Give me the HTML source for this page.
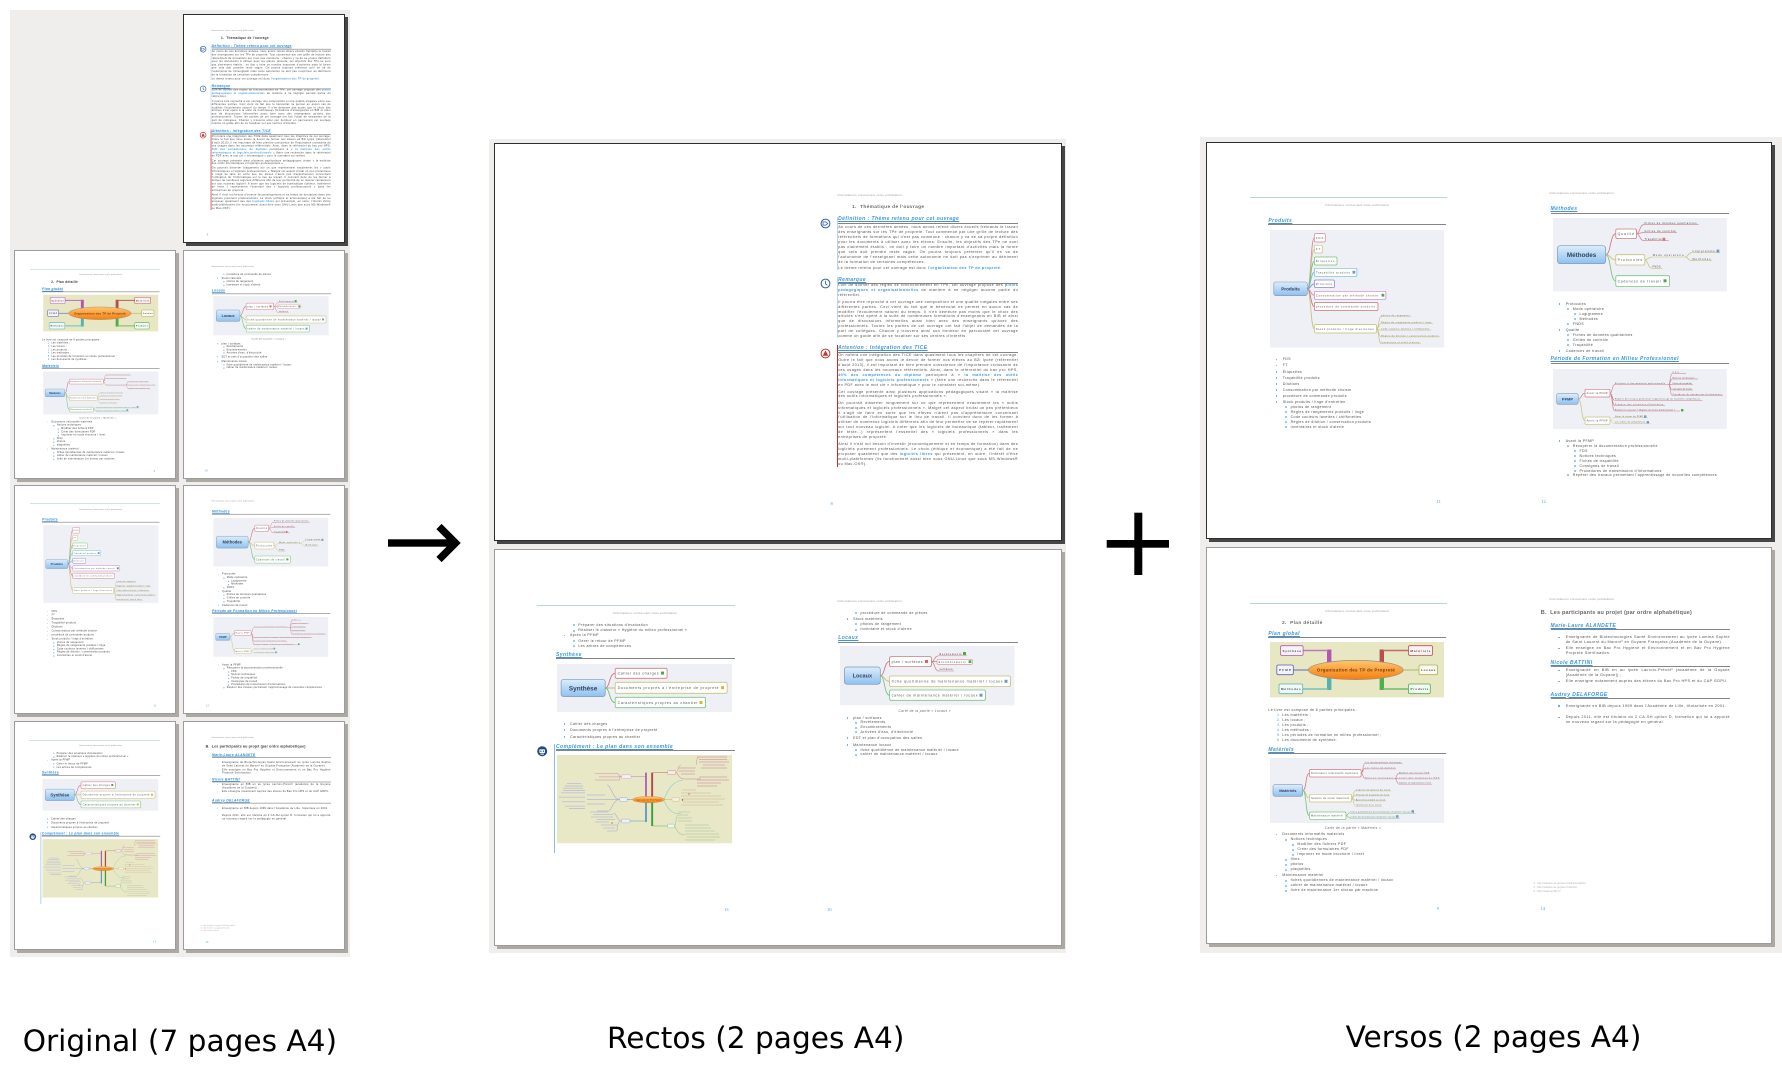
<!DOCTYPE html>
<html><head><meta charset="utf-8">
<style>
*{margin:0;padding:0;box-sizing:border-box}
html,body{width:1782px;height:1074px;overflow:hidden;background:#fff}
body{position:relative;font-family:"Liberation Sans",sans-serif}
.pan{position:absolute;background:#efeeec}
.th,.sh{position:absolute;background:#fff;border:1px solid #9c9c9c;box-shadow:3px 3px 0 #aca8a2;overflow:hidden}
.th{width:162px;height:229px}
.dk{border-color:#2e2e2e;box-shadow:3px 3px 0 #464646}
.pg{position:absolute;left:0;top:0;width:283px;height:397px;transform-origin:0 0}
.th .o{transform:translate(-14.1px,-19px) scale(.661)}
.th .e{transform:translate(-12.3px,-19px) scale(.661)}
.sh .o{left:-1px;top:-1px}
.sh .e{left:282.5px;top:-1px}
.a{position:absolute;white-space:nowrap;line-height:5px;font-size:3.6px;color:#4e4e4e;letter-spacing:.35px}
.hd{font-size:3.1px;color:#9a9a9a;letter-spacing:.2px}
.hl{position:absolute;height:.8px;background:#b8d6d6}
.t1{font-size:4.8px;font-weight:bold;color:#6a6a6a;letter-spacing:.35px;line-height:6px}
.h{font-size:5px;font-weight:bold;font-style:italic;color:#3f95d6;text-decoration:underline;letter-spacing:.45px}
.r{position:absolute;height:1.1px;background:#858585}
.p{position:absolute;white-space:normal;text-align:justify;font-size:3.8px;line-height:4.95px;color:#505050;letter-spacing:.38px}
.th .p,.th .a{color:#3a3a3a}
.th .hd{color:#8a8a8a}
.th .h{color:#2f8ad0}
.bl{color:#3f98d8;font-weight:bold}
.pn{font-size:4.6px;color:#4aa2de !important;font-family:"Liberation Serif",serif;letter-spacing:0}
.cap{font-style:italic;color:#666;font-size:3.3px}
.a i,.p i{position:absolute;left:-6.5px;top:1.9px;width:1.3px;height:1.3px;border-radius:50%;background:#5aa9e2}
.p i{left:-7.4px}
.a i.s{left:-5.5px;background:none;border:.3px solid #7ab8e6}
.a b.n{position:absolute;left:-5.3px;font-weight:normal;color:#4aa2de}
.bar{position:absolute;width:.8px}
.mm,.ic{position:absolute;overflow:visible}
svg text{font-family:"Liberation Sans",sans-serif}
.cp{position:absolute;font-family:"DejaVu Sans",sans-serif;font-size:29.6px;line-height:30px;color:#000;white-space:nowrap}
.fn{font-size:2.4px;color:#aaa !important;letter-spacing:.1px}
</style></head>
<body>
<svg width="0" height="0" style="position:absolute"><defs>
<linearGradient id="gb" x1="0" y1="0" x2="0" y2="1"><stop offset="0" stop-color="#dcedfc"/><stop offset="1" stop-color="#8fc1ef"/></linearGradient>
<linearGradient id="go" x1="0" y1="0" x2="0" y2="1"><stop offset="0" stop-color="#ffc56e"/><stop offset="1" stop-color="#f57e10"/></linearGradient>
</defs></svg>

<div class="pan" style="left:10px;top:10px;width:340px;height:947px"></div>
<div class="pan" style="left:489px;top:139px;width:577px;height:814px"></div>
<div class="pan" style="left:1200px;top:136.5px;width:582px;height:816.5px"></div>

<!-- ===================== THUMBNAILS ===================== -->
<div class="th dk" style="left:183px;top:14px">
<div class="pg e">
<div class="a hd" style="left:60px;top:50px">Informations concernant cette publication</div>
<div class="a t1" style="left:74.5px;top:61.7px">1.&nbsp; Thématique de l'ouvrage</div>
<div class="bar" style="left:59.4px;top:74px;height:53px;background:#b9d5ec"></div>
<svg class="ic" style="left:42px;top:75.3px" width="11" height="11" viewBox="0 0 11 11"><circle cx="5.5" cy="5.5" r="4.4" fill="#fff" stroke="#2f5f98" stroke-width="1"/><path d="M3 3.9h2.8l2 1.6-2 1.6H3z" fill="none" stroke="#2f5f98" stroke-width=".8"/></svg>
<div class="a h" style="left:60.6px;top:74.2px">Définition : Thème retenu pour cet ouvrage</div>
<div class="r" style="left:60.6px;top:79.6px;width:180px"></div>
<div class="p" style="left:60.6px;top:82.3px;width:180px">Au cours de ces dernières années, nous avons relevé divers écueils freinants le travail des enseignants sur les TPe de propreté. Tout commence par une grille de lecture des référentiels de formations qui n'est pas commune : chacun y va de sa propre définition pour les documents à utiliser avec les élèves. Ensuite, les objectifs des TPe ne sont pas clairement établis : on doit y faire un nombre important d'activités mais la forme que cela doit prendre reste vague. On pourra toujours prétexter qu'il en va de l'autonomie de l'enseignant mais cette autonomie ne doit pas s'exprimer au détriment de la formation de certaines compétences.</div>
<div class="p" style="left:60.6px;top:122.5px;width:180px">Le thème retenu pour cet ouvrage est donc <span class="bl">l'organisation des TP de propreté</span>.</div>
<div class="bar" style="left:59.4px;top:134px;height:61px;background:#b9d5ec"></div>
<svg class="ic" style="left:42px;top:134.5px" width="11" height="11" viewBox="0 0 11 11"><circle cx="5.5" cy="5.5" r="4.4" fill="#fff" stroke="#2f5f98" stroke-width="1"/><path d="M5.5 2.8v3l1.8 1.4" fill="none" stroke="#2f5f98" stroke-width=".8"/></svg>
<div class="a h" style="left:60.6px;top:134.6px">Remarque</div>
<div class="r" style="left:60.6px;top:139.6px;width:180px"></div>
<div class="p" style="left:60.6px;top:140.3px;width:180px">Loin de donner des règles de fonctionnement en TPe, cet ouvrage propose des <span class="bl">pistes pédagogiques et organisationnelles</span> de manière à ne négliger aucune partie du référentiel.</div>
<div class="p" style="left:60.6px;top:156.6px;width:180px">Il pourra être reproché à cet ouvrage une composition et une qualité inégales entre ses différentes parties. Ceci vient du fait que le bénévolat ne permet en aucun cas de modifier l'écoulement naturel du temps. Il n'en demeure pas moins que le choix des articles s'est opéré à la suite de nombreuses formations d'enseignants en BIB et ainsi que de discussions informelles aussi bien avec des enseignants qu'avec des professionnels. Toutes les parties de cet ouvrage ont fait l'objet de demandes de la part de collègues. Chacun y trouvera ainsi son bonheur en parcourant cet ouvrage comme un guide afin de se focaliser sur ses centres d'intérêts.</div>
<div class="bar" style="left:59.4px;top:202px;height:121.5px;background:#b8302a"></div>
<svg class="ic" style="left:42px;top:204.5px" width="11" height="11" viewBox="0 0 11 11"><circle cx="5.5" cy="5.5" r="4.4" fill="#fff" stroke="#b83a3a" stroke-width="1"/><path d="M5.5 2.4L8.3 7.7H2.7z" fill="#c0392b"/></svg>
<div class="a h" style="left:60.6px;top:203.2px">Attention : Intégration des TICE</div>
<div class="r" style="left:60.6px;top:208.6px;width:180px"></div>
<div class="p" style="left:60.6px;top:210.2px;width:180px">On notera une intégration des TICE dans quasiment tous les chapitres de cet ouvrage. Outre le fait que nous avons le devoir de former nos élèves au B2i lycée (référentiel d'août 2013), il est important de bien prendre conscience de l'importance croissante de ces usages dans les nouveaux référentiels. Ainsi, dans le référentiel du bac pro HPS, <span class="bl">40% des compétences du diplôme</span> participent à « <span class="bl">la maîtrise des outils informatiques et logiciels professionnels</span> » (faire une recherche dans le référentiel en PDF avec le mot clé « informatique » pour le constater soi-même).</div>
<div class="p" style="left:60.6px;top:246.5px;width:180px">Cet ouvrage présente ainsi plusieurs applications pédagogiques visant « la maîtrise des outils informatiques et logiciels professionnels ».</div>
<div class="p" style="left:60.6px;top:257.6px;width:180px">On pourrait disserter longuement sur ce que représentent exactement les « outils informatiques et logiciels professionnels ». Malgré cet aspect brutal un peu prétentieux il s'agit de faire en sorte que les élèves n'aient pas d'appréhension concernant l'utilisation de l'informatique sur le lieu de travail. Il convient donc de les former à utiliser de nombreux logiciels différents afin de leur permettre de se repérer rapidement sur tout nouveau logiciel. A noter que les logiciels de bureautique (tableur, traitement de texte...) représentent l'essentiel des « logiciels professionnels » dans les entreprises de propreté.</div>
<div class="p" style="left:60.6px;top:298.9px;width:180px">Ainsi il n'est nul besoin d'investir (économiquement et en temps de formation) dans des logiciels purement professionnels. Le choix (éthique et économique) a été fait de ne proposer quasiment que des <span class="bl">logiciels libres</span> qui présentent, en outre, l'intérêt d'être multi-plateformes (ils fonctionnent aussi bien sous GNU-Linux que sous MS-Windows® ou Mac-OS®).</div>
<div class="a pn" style="left:53px;top:358px">8</div>
</div>
</div>

<div class="th" style="left:14px;top:250px">
<div class="pg o">
<div class="hl" style="left:43.6px;top:55.8px;width:197px"></div>
<div class="a hd" style="left:118.8px;top:61.8px">Informations concernant cette publication</div>
<div class="a t1" style="left:76px;top:74px">2.&nbsp; Plan détaillé</div>
<div class="a h" style="left:62.4px;top:84.8px">Plan global</div>
<div class="r" style="left:62.4px;top:90.2px;width:178px"></div>
<svg class="mm" style="left:63.5px;top:95.3px" width="174" height="55.4" viewBox="0 0 174 55.4">
<rect width="174" height="55.4" fill="#e8e7c4"/>
<rect x="57" y="7.5" width="4.4" height="14" fill="#b356b3"/><path d="M33 8.5H58" stroke="#c07ac0" stroke-width="1.6"/>
<rect x="57" y="35" width="4.4" height="13" fill="#52b3b3"/><path d="M32.7 47H58" stroke="#72c0c0" stroke-width="1.6"/>
<rect x="109.6" y="7.5" width="4.4" height="14" fill="#b5504c"/><path d="M113 8.5H138.5" stroke="#c06c68" stroke-width="1.6"/>
<rect x="109.6" y="35" width="4.4" height="13" fill="#4fae4f"/><path d="M113 47H138.5" stroke="#6cbf6c" stroke-width="1.6"/>
<path d="M23.3 28H39" stroke="#7f7fc4" stroke-width="1.2"/><path d="M133 28H149" stroke="#c0c070" stroke-width="1.2"/>
<ellipse cx="85.8" cy="28" rx="47.4" ry="9.6" fill="url(#go)" stroke="#9a8f80" stroke-width=".7"/>
<text x="85.8" y="29.6" font-size="4.6" font-weight="bold" fill="#7b3c08" text-anchor="middle" textLength="78">Organisation des TP de Propreté</text>
<rect x="10.5" y="3.7" width="22.6" height="9.7" rx="1.4" fill="#f8f2f8" stroke="#b05cb0" stroke-width=".8"/><text x="12.5" y="9.8" font-size="3" font-weight="bold" fill="#444" textLength="18.6">Synthèse</text>
<rect x="6.8" y="23" width="16.5" height="9.7" rx="1.4" fill="#f2f2fa" stroke="#6060b0" stroke-width=".8"/><text x="9" y="29.1" font-size="3" font-weight="bold" fill="#444" textLength="12">PFMP</text>
<rect x="9" y="42" width="23.7" height="9.7" rx="1.4" fill="#f0f8f8" stroke="#5fb0b0" stroke-width=".8"/><text x="11" y="48.1" font-size="3" font-weight="bold" fill="#444" textLength="19.7">Méthodes</text>
<rect x="138.5" y="3.7" width="24" height="9.7" rx="1.4" fill="#faf2f2" stroke="#c05050" stroke-width=".8"/><text x="140.5" y="9.8" font-size="3" font-weight="bold" fill="#444" textLength="20">Matériels</text>
<rect x="149" y="23" width="18.5" height="9.7" rx="1.4" fill="#fafaf0" stroke="#b0b050" stroke-width=".8"/><text x="151" y="29.1" font-size="3" font-weight="bold" fill="#444" textLength="14.5">Locaux</text>
<rect x="138.5" y="42" width="21.8" height="9.7" rx="1.4" fill="#f2faf2" stroke="#50b050" stroke-width=".8"/><text x="140.5" y="48.1" font-size="3" font-weight="bold" fill="#444" textLength="17.8">Produits</text>
</svg>
<div class="a" style="left:62.4px;top:160.8px">Le livre est composé de 6 parties principales :</div>
<div class="a" style="left:76.3px;top:165.8px"><b class="n">1.</b>Les matériels ;</div>
<div class="a" style="left:76.3px;top:170.8px"><b class="n">2.</b>Les locaux ;</div>
<div class="a" style="left:76.3px;top:175.8px"><b class="n">3.</b>Les produits ;</div>
<div class="a" style="left:76.3px;top:180.8px"><b class="n">4.</b>Les méthodes ;</div>
<div class="a" style="left:76.3px;top:185.8px"><b class="n">5.</b>Les périodes de formation en milieu professionnel ;</div>
<div class="a" style="left:76.3px;top:190.8px"><b class="n">6.</b>Les documents de synthèse.</div>
<div class="a h" style="left:62.4px;top:200.5px">Matériels</div>
<div class="r" style="left:62.4px;top:205.7px;width:178px"></div>
<svg class="mm" style="left:63.5px;top:210.7px" width="174.2" height="65" viewBox="0 0 174.2 65">
<rect width="174.2" height="65" fill="#eef0f6"/>
<g fill="none" stroke-width=".8">
<path d="M32.7 32.45C37 32.45 35 15.3 39.5 15.3" stroke="#cf7c80"/>
<path d="M32.7 32.45C37 32.45 35 40.15 39.5 40.15" stroke="#c8c07a"/>
<path d="M32.7 32.45C37 32.45 35 57.65 39.5 57.65" stroke="#7cc47c"/>
<path d="M91.1 15.3C93 15.3 93 5 94.8 5M91.1 15.3C93 15.3 93 10.3 94.8 10.3M91.1 15.3C93 15.3 93 20.3 94.8 20.3M124.9 20.3C127 20.3 126.5 15.3 128.5 15.3M124.9 20.3H128.5M124.9 20.3C127 20.3 126.5 25.6 128.5 25.6" stroke="#cf7c80" stroke-width=".6"/>
<path d="M81.5 40.15C84 40.15 83 32.3 85.5 32.3M81.5 40.15C84 40.15 83 37.3 85.5 37.3M81.5 40.15C84 40.15 83 42.3 85.5 42.3M81.5 40.15C84 40.15 83 47.6 85.5 47.6" stroke="#c8c07a" stroke-width=".6"/>
<path d="M76 57.65C78 57.65 78 54.6 79.8 54.6M76 57.65C78 57.65 78 59.6 79.8 59.6" stroke="#7cc47c" stroke-width=".6"/>
<path d="M94.8 5.6H132.5M94.8 10.9H126M94.8 20.9H124.9M128.5 15.9H160M128.5 20.9H170M128.5 26.2H162" stroke="#d08a8e" stroke-width=".5"/>
<path d="M85.5 32.9H121.2M85.5 37.9H120M85.5 42.9H116M85.5 48.2H112" stroke="#c8c07a" stroke-width=".5"/>
<path d="M79.8 55.2H145.5M79.8 60.2H129.8" stroke="#7cc47c" stroke-width=".5"/>
</g>
<rect x="3" y="26.6" width="29.7" height="11.7" rx="2" fill="url(#gb)" stroke="#8396b0" stroke-width=".6"/><text x="17.85" y="33.9" font-size="4" font-weight="bold" fill="#34445f" text-anchor="middle">Matériels</text>
<rect x="39.5" y="11.6" width="51.6" height="7.4" rx="1.2" fill="#fff" stroke="#cf7c80" stroke-width=".7"/><text x="41" y="16.2" font-size="2.6" fill="#555" textLength="47">Documents informatifs matériels</text>
<rect x="39.5" y="36.3" width="42" height="7.7" rx="1.2" fill="#fff" stroke="#c8c07a" stroke-width=".7"/><text x="41" y="41" font-size="2.6" fill="#555" textLength="38">Gestion du stock matériels</text>
<rect x="39.5" y="54" width="36.5" height="7.3" rx="1.2" fill="#fff" stroke="#7cc47c" stroke-width=".7"/><text x="41" y="58.6" font-size="2.6" fill="#555" textLength="32">Maintenance matériel</text>
<g font-size="1.9" fill="#555">
<text x="95.3" y="5" textLength="36">Les documentations techniques</text><text x="95.3" y="10.3" textLength="30">Les fiches de données</text><text x="95.3" y="20.3" textLength="28">Notices techniques</text>
<text x="129" y="15.3" textLength="30">Modifier des fichiers PDF</text><text x="129" y="20.3" textLength="40">Créer des formulaires PDF</text><text x="129" y="25.6" textLength="32">Imprimer en mode brochure / livret</text>
<text x="86" y="32.3" textLength="34">Logiciel de gestion de stock</text><text x="86" y="37.3" textLength="33">Principe de la gestion de stock</text><text x="86" y="42.3" textLength="29">Ajout d'un produit au stock</text><text x="86" y="47.6" textLength="25">Inventaire d'un stock</text>
<text x="80.3" y="54.6" textLength="60">fiches quotidiennes de maintenance matériel / locaux</text><text x="80.3" y="59.6" textLength="45">cahier de maintenance matériel / locaux</text>
</g>
<rect x="141.5" y="52.2" width="2.5" height="2.5" fill="#6a9ad0"/><rect x="126" y="57.2" width="2.5" height="2.5" fill="#6a9ad0"/>
</svg>
<div class="a cap" style="left:118.8px;top:278.8px">Carte de la partie « Matériels »</div>
<div class="a" style="left:76.3px;top:284.8px"><i></i>Documents informatifs matériels</div>
<div class="a" style="left:84.6px;top:289.8px"><i class="s"></i>Notices techniques</div>
<div class="a" style="left:91.4px;top:294.8px"><i class="s"></i>Modifier des fichiers PDF</div>
<div class="a" style="left:91.4px;top:299.8px"><i class="s"></i>Créer des formulaires PDF</div>
<div class="a" style="left:91.4px;top:304.8px"><i class="s"></i>Imprimer en mode brochure / livret</div>
<div class="a" style="left:84.6px;top:309.8px"><i class="s"></i>films</div>
<div class="a" style="left:84.6px;top:314.8px"><i class="s"></i>photos</div>
<div class="a" style="left:84.6px;top:319.8px"><i class="s"></i>plaquettes</div>
<div class="a" style="left:76.3px;top:325.8px"><i></i>Maintenance matériel</div>
<div class="a" style="left:84.6px;top:330.8px"><i class="s"></i>fiches quotidiennes de maintenance matériel / locaux</div>
<div class="a" style="left:84.6px;top:335.8px"><i class="s"></i>cahier de maintenance matériel / locaux</div>
<div class="a" style="left:84.6px;top:340.8px"><i class="s"></i>fiche de maintenance 1er niveau par machine</div>
<div class="a pn" style="left:231px;top:358.5px">9</div>
</div>
</div>

<div class="th" style="left:183px;top:250px">
<div class="pg e">
<div class="a hd" style="left:60px;top:49.9px">Informations concernant cette publication</div>
<div class="a" style="left:83px;top:61.5px"><i class="s"></i>procédure de commande de pièces</div>
<div class="a" style="left:75.6px;top:67.5px"><i></i>Stock matériels</div>
<div class="a" style="left:83px;top:72.5px"><i class="s"></i>photos de rangement</div>
<div class="a" style="left:83px;top:77.9px"><i class="s"></i>inventaire et stock d'alerte</div>
<div class="a h" style="left:60.7px;top:87.2px">Locaux</div>
<div class="r" style="left:60.7px;top:92.5px;width:180px"></div>
<svg class="mm" style="left:62.6px;top:97.4px" width="174.4" height="59.3" viewBox="0 0 174.4 59.3">
<rect width="174.4" height="59.3" fill="#eef0f6"/>
<g fill="none" stroke-width=".9">
<path d="M40.3 29.7C45 29.7 44 15.6 49.6 15.6" stroke="#cf7c80"/>
<path d="M40.3 29.7C45 29.7 44 35.3 49.6 35.3" stroke="#c8c07a"/>
<path d="M40.3 29.7C45 29.7 44 49.2 49.6 49.2" stroke="#7cc47c"/>
<path d="M91.4 15.6C95 15.6 94 9.8 98.9 9.8M91.4 15.6H97M91.4 15.6C95 15.6 94 25 98.9 25" stroke="#cf7c80" stroke-width=".7"/>
</g>
<rect x="4.4" y="21" width="35.9" height="17.3" rx="2.6" fill="url(#gb)" stroke="#8396b0" stroke-width=".7"/>
<text x="22.35" y="31.7" font-size="5.6" font-weight="bold" fill="#34445f" text-anchor="middle">Locaux</text>
<rect x="49.6" y="10.6" width="41.8" height="10" rx="1.6" fill="#fff" stroke="#cf7c80" stroke-width=".8"/>
<text x="51.6" y="17" font-size="3.6" fill="#555" textLength="31">plan / surfaces</text>
<rect x="85" y="14" width="3" height="3" fill="#e06060"/>
<text x="99.5" y="8.8" font-size="2.4" fill="#333" textLength="22">Revêtements</text>
<path d="M98.9 9.8H127" stroke="#cf7c80" stroke-width=".5"/>
<rect x="123" y="6" width="3" height="3" fill="#4aa84a"/>
<rect x="97" y="13.3" width="35.4" height="5" rx="1" fill="#fff" stroke="#d88a90" stroke-width=".6"/>
<text x="98.6" y="16.8" font-size="2.4" fill="#333" textLength="27">Encombrements</text>
<rect x="128.6" y="14.3" width="2.8" height="2.8" fill="#4aa84a"/>
<text x="99.5" y="24" font-size="2.4" fill="#333" textLength="13">surfaces</text>
<path d="M98.9 25H114" stroke="#cf7c80" stroke-width=".5"/>
<rect x="49.6" y="30" width="120.9" height="10.6" rx="1.6" fill="#fff" stroke="#c8c07a" stroke-width=".8"/>
<text x="51.6" y="36.6" font-size="3.6" fill="#555" textLength="111">fiche quotidienne de maintenance matériel / locaux</text>
<rect x="164.5" y="33.8" width="3" height="3" fill="#6a9ad0"/>
<rect x="49.6" y="44" width="95.8" height="10.3" rx="1.6" fill="#fff" stroke="#7cc47c" stroke-width=".8"/>
<text x="51.6" y="50.5" font-size="3.6" fill="#555" textLength="86">cahier de maintenance matériel / locaux</text>
<rect x="139.5" y="47.7" width="3" height="3" fill="#6a9ad0"/>
</svg>
<div class="a cap" style="left:121px;top:159.5px">Carte de la partie « Locaux »</div>
<div class="a" style="left:75.6px;top:166.5px"><i></i>plan / surfaces</div>
<div class="a" style="left:83px;top:170.9px"><i class="s"></i>Revêtements</div>
<div class="a" style="left:83px;top:175.9px"><i class="s"></i>Encombrements</div>
<div class="a" style="left:83px;top:180.5px"><i class="s"></i>Arrivées d'eau, d'électricité</div>
<div class="a" style="left:75.6px;top:186.5px"><i></i>EDT et plan d'occupation des salles</div>
<div class="a" style="left:75.6px;top:193.5px"><i></i>Maintenance locaux</div>
<div class="a" style="left:83px;top:198.5px"><i class="s"></i>fiche quotidienne de maintenance matériel / locaux</div>
<div class="a" style="left:83px;top:203.2px"><i class="s"></i>cahier de maintenance matériel / locaux</div>
<div class="a pn" style="left:49.5px;top:358px">10</div>
</div>
</div>

<div class="th" style="left:14px;top:485px">
<div class="pg o">
<div class="hl" style="left:43.6px;top:55.3px;width:197px"></div>
<div class="a hd" style="left:118.8px;top:61.5px">Informations concernant cette publication</div>
<div class="a h" style="left:62.4px;top:77.8px">Produits</div>
<div class="r" style="left:62.4px;top:82.8px;width:178px"></div>
<svg class="mm" style="left:63.5px;top:88px" width="174.2" height="117.6" viewBox="0 0 174.2 117.6">
<rect width="174.2" height="117.6" fill="#eef0f6"/>
<g fill="none" stroke-width=".8">
<path d="M37.3 58.85C41 58.85 40.5 7.8 44.4 7.8" stroke="#d48896"/>
<path d="M37.3 58.85C41 58.85 40.5 19.15 44.4 19.15" stroke="#c8c07a"/>
<path d="M37.3 58.85C41 58.85 40.5 31 44.4 31" stroke="#72c072"/>
<path d="M37.3 58.85C41 58.85 40.5 42.3 44.4 42.3" stroke="#6cbfc8"/>
<path d="M37.3 58.85C41 58.85 40.5 53.8 44.4 53.8" stroke="#8c82cc"/>
<path d="M37.3 58.85C41 58.85 40.5 65.3 44.4 65.3" stroke="#cc80cc"/>
<path d="M37.3 58.85C41 58.85 40.5 76.6 44.4 76.6" stroke="#cc7070"/>
<path d="M37.3 58.85C41 58.85 40.5 98.8 44.4 98.8" stroke="#c4be72"/>
<path d="M106.5 98.8C109 98.8 108.5 86.6 111 86.6M106.5 98.8C109 98.8 108.5 93.4 111 93.4M106.5 98.8C109 98.8 108.5 100.1 111 100.1M106.5 98.8C109 98.8 108.5 106.9 111 106.9M106.5 98.8C109 98.8 108.5 113.6 111 113.6" stroke="#c4be72" stroke-width=".6"/>
<path d="M111 86.6H141M111 93.4H163M111 100.1H161M111 106.9H170M111 113.6H151" stroke="#c4be72" stroke-width=".5"/>
</g>
<rect x="3.8" y="52" width="33.5" height="13.7" rx="2.2" fill="url(#gb)" stroke="#8396b0" stroke-width=".6"/><text x="20.55" y="60.5" font-size="4.6" font-weight="bold" fill="#34445f" text-anchor="middle">Produits</text>
<g fill="#fff" stroke-width=".7">
<rect x="44.4" y="3.6" width="10.9" height="8.4" rx="1.2" stroke="#d48896"/>
<rect x="44.4" y="15.3" width="7.9" height="7.7" rx="1.2" stroke="#c8c07a"/>
<rect x="44.4" y="27" width="22.6" height="8" rx="1.2" stroke="#72c072"/>
<rect x="44.4" y="38.3" width="42.5" height="8" rx="1.2" stroke="#6cbfc8"/>
<rect x="44.4" y="50" width="20" height="7.6" rx="1.2" stroke="#8c82cc"/>
<rect x="44.4" y="61.3" width="71.5" height="8" rx="1.2" stroke="#cc80cc"/>
<rect x="44.4" y="72.6" width="63.6" height="8" rx="1.2" stroke="#cc7070"/>
<rect x="44.4" y="94.6" width="62.1" height="8.4" rx="1.2" stroke="#c4be72"/>
</g>
<g font-size="2.8" fill="#555">
<text x="45.9" y="8.8" textLength="7.5">FDS</text><text x="45.9" y="20.2" textLength="4.5">FT</text><text x="45.9" y="32" textLength="18.5">Étiquettes</text>
<text x="45.9" y="43.3" textLength="34">Traçabilité produits</text><text x="45.9" y="54.8" textLength="16">Dilutions</text>
<text x="45.9" y="66.3" textLength="62">Consommation par méthode choisie</text><text x="45.9" y="77.6" textLength="59">procédure de commande produits</text>
<text x="45.9" y="99.8" textLength="58">Stock produits / linge d'entretien</text>
</g>
<g font-size="2" fill="#555"><text x="111.3" y="86" textLength="28">photos de rangement</text><text x="111.3" y="92.8" textLength="50">Règles de rangements produits / linge</text><text x="111.3" y="99.5" textLength="48">Code couleurs lavettes / chiffonettes</text><text x="111.3" y="106.3" textLength="57">Règles de dilution / conservation produits</text><text x="111.3" y="113" textLength="38">inventaires et stock d'alerte</text></g>
<rect x="82.5" y="40.8" width="2.8" height="2.8" fill="#6a9ad0"/><rect x="111.5" y="63.8" width="2.8" height="2.8" fill="#4aa84a"/>
</svg>
<div class="a" style="left:76.7px;top:215.8px"><i></i>FDS</div>
<div class="a" style="left:76.7px;top:221.8px"><i></i>FT</div>
<div class="a" style="left:76.7px;top:228.1px"><i></i>Étiquettes</div>
<div class="a" style="left:76.7px;top:234.1px"><i></i>Traçabilité produits</div>
<div class="a" style="left:76.7px;top:240.1px"><i></i>Dilutions</div>
<div class="a" style="left:76.7px;top:246.1px"><i></i>Consommation par méthode choisie</div>
<div class="a" style="left:76.7px;top:252.1px"><i></i>procédure de commande produits</div>
<div class="a" style="left:76.7px;top:258.1px"><i></i>Stock produits / linge d'entretien</div>
<div class="a" style="left:84.6px;top:263.1px"><i class="s"></i>photos de rangement</div>
<div class="a" style="left:84.6px;top:268.1px"><i class="s"></i>Règles de rangements produits / linge</div>
<div class="a" style="left:84.6px;top:273.1px"><i class="s"></i>Code couleurs lavettes / chiffonettes</div>
<div class="a" style="left:84.6px;top:278.1px"><i class="s"></i>Règles de dilution / conservation produits</div>
<div class="a" style="left:84.6px;top:283.1px"><i class="s"></i>inventaires et stock d'alerte</div>
<div class="a pn" style="left:230.5px;top:357.5px">11</div>
</div>
</div>

<div class="th" style="left:183px;top:485px">
<div class="pg e">
<div class="a hd" style="left:60px;top:49.1px">Informations concernant cette publication</div>
<div class="a h" style="left:61px;top:65.8px">Méthodes</div>
<div class="r" style="left:61px;top:71.1px;width:178.5px"></div>
<svg class="mm" style="left:63px;top:76.6px" width="173.8" height="73.4" viewBox="0 0 173.8 73.4">
<rect width="173.8" height="73.4" fill="#eef0f6"/>
<g fill="none" stroke-width=".9">
<path d="M52.7 36.7C58 36.7 57 15.7 62.8 15.7" stroke="#cf7c80"/>
<path d="M52.7 36.7C58 36.7 57 41.85 62.8 41.85" stroke="#c8c07a"/>
<path d="M52.7 36.7C58 36.7 57 63.05 62.8 63.05" stroke="#7cc47c"/>
<path d="M83.5 15.7C87 15.7 86.5 6.6 91 6.6M83.5 15.7C87 15.7 86.5 14.6 91 14.6M83.5 15.7C87 15.7 86.5 22.6 91 22.6" stroke="#cf7c80" stroke-width=".7"/>
<path d="M91 6.6H145.6M91 14.6H124M91 22.6H115.6" stroke="#cf7c80" stroke-width=".6"/>
<path d="M91.8 41.85C95 41.85 95 39 99.3 39M91.8 41.85C95 41.85 95 50.3 99 50.3M132.4 39C135 39 135 34.6 139.2 34.6M132.4 39C135 39 135 42.6 139 42.6" stroke="#c8c07a" stroke-width=".7"/>
<path d="M99.3 39H132.4M99 50.3H109.5M139.2 34.6H167M139 42.6H158.8" stroke="#c8c07a" stroke-width=".6"/>
</g>
<rect x="4.5" y="27.7" width="48.2" height="18" rx="2.8" fill="url(#gb)" stroke="#8396b0" stroke-width=".7"/><text x="28.6" y="38.8" font-size="6.3" font-weight="bold" fill="#34445f" text-anchor="middle">Méthodes</text>
<rect x="62.8" y="11" width="20.7" height="9.4" rx="1.4" fill="#fff" stroke="#cf7c80" stroke-width=".8"/><text x="64.6" y="17" font-size="3.5" fill="#555" textLength="16.5">Qualité</text>
<rect x="62.8" y="36.7" width="29" height="10.3" rx="1.4" fill="#fff" stroke="#c8c07a" stroke-width=".8"/><text x="64.6" y="43.1" font-size="3.5" fill="#555" textLength="24.5">Protocoles</text>
<rect x="62.8" y="57.7" width="53.8" height="10.7" rx="1.4" fill="#fff" stroke="#7cc47c" stroke-width=".8"/><text x="64.6" y="64.3" font-size="3.5" fill="#555" textLength="43">Cadences de travail</text>
<rect x="110.5" y="61.3" width="3" height="3" fill="#4aa84a"/>
<g font-size="2.5" fill="#444"><text x="91.5" y="5.8" textLength="52">Fiches de données qualitatives</text><text x="91.5" y="13.8" textLength="31">Grilles de contrôle</text><text x="91.5" y="21.8" textLength="17">Traçabilité</text>
<text x="99.8" y="38.2" textLength="31">Mode opératoire</text><text x="99.5" y="49.5" textLength="8">FNDS</text><text x="139.7" y="33.8" textLength="22">Logigramme</text><text x="139.5" y="41.8" textLength="18">Méthodes</text></g>
<rect x="109.5" y="19.8" width="2.8" height="2.8" fill="#e07070"/><rect x="163.5" y="31.6" width="2.8" height="2.8" fill="#6a9ad0"/>
</svg>
<div class="a" style="left:76.2px;top:160.1px"><i></i>Protocoles</div>
<div class="a" style="left:83.3px;top:165.1px"><i class="s"></i>Mode opératoire</div>
<div class="a" style="left:90px;top:170.1px"><i class="s"></i>Logigramme</div>
<div class="a" style="left:90px;top:175.1px"><i class="s"></i>Méthodes</div>
<div class="a" style="left:83.3px;top:180.1px"><i class="s"></i>FNDS</div>
<div class="a" style="left:76.2px;top:186.1px"><i></i>Qualité</div>
<div class="a" style="left:83.3px;top:191.1px"><i class="s"></i>Fiches de données qualitatives</div>
<div class="a" style="left:83.3px;top:196.1px"><i class="s"></i>Grilles de contrôle</div>
<div class="a" style="left:83.3px;top:201.1px"><i class="s"></i>Traçabilité</div>
<div class="a" style="left:76.2px;top:207.1px"><i></i>Cadences de travail</div>
<div class="a h" style="left:61px;top:215.8px">Période de Formation en Milieu Professionnel</div>
<div class="r" style="left:61px;top:221.1px;width:178.5px"></div>
<svg class="mm" style="left:63px;top:227px" width="173.8" height="60" viewBox="0 0 173.8 60">
<rect width="173.8" height="60" fill="#eef0f6"/>
<g fill="none" stroke-width=".7">
<path d="M25.2 29.95C29 29.95 28 24.15 32 24.15" stroke="#cf7c80"/>
<path d="M25.2 29.95C29 29.95 28 51.65 32 51.65" stroke="#c8c07a"/>
<path d="M57 24.15C59.5 24.15 59 15.6 61.7 15.6M57 24.15C59.5 24.15 59 31.3 61.7 31.3M57 24.15C59.5 24.15 59 36.6 61.7 36.6M57 24.15C59.5 24.15 59 42 61.7 42" stroke="#cf7c80" stroke-width=".6"/>
<path d="M115.5 15.6C117.5 15.6 117 4.6 119.3 4.6M115.5 15.6C117.5 15.6 117 10 119.3 10M115.5 15.6H119.3M115.5 15.6C117.5 15.6 117 21 119.3 21M115.5 15.6C117.5 15.6 117 26.5 119.3 26.5" stroke="#cf7c80" stroke-width=".6"/>
<path d="M61.7 15.6H115.5M61.7 31.3H149.4M61.7 36.6H112M61.7 42H127M119.3 4.6H133M119.3 10H145M119.3 15.6H140M119.3 21H140M119.3 26.5H170" stroke="#cf7c80" stroke-width=".5"/>
<path d="M57 51.65C59.5 51.65 59 48.6 61.7 48.6M57 51.65C59.5 51.65 59 54.3 61.7 54.3M61.7 48.6H94.8M61.7 54.3H97.5" stroke="#c8c07a" stroke-width=".5"/>
</g>
<rect x="3.7" y="24.6" width="21.5" height="10.7" rx="1.8" fill="url(#gb)" stroke="#8396b0" stroke-width=".6"/><text x="14.45" y="31.4" font-size="4" font-weight="bold" fill="#34445f" text-anchor="middle">PFMP</text>
<rect x="32" y="20.3" width="25" height="7.7" rx="1.2" fill="#fff" stroke="#cf7c80" stroke-width=".7"/><text x="33.5" y="25.1" font-size="2.5" fill="#555" textLength="21">Avant la PFMP</text>
<rect x="32" y="48" width="25" height="7.3" rx="1.2" fill="#fff" stroke="#c8c07a" stroke-width=".7"/><text x="33.5" y="52.6" font-size="2.5" fill="#555" textLength="21">Après la PFMP</text>
<g font-size="1.8" fill="#444"><text x="62" y="15" textLength="50">Récupérer la documentation professionnelle</text><text x="62" y="30.7" textLength="85">Repérer des travaux permettant l'apprentissage de nouvelles compétences</text><text x="62" y="36" textLength="48">Préparer des situations d'évaluation</text><text x="62" y="41.4" textLength="60">Réaliser le classeur « Hygiène du milieu professionnel »</text>
<text x="119.6" y="4" textLength="6">FDS</text><text x="119.6" y="9.4" textLength="22">Notices techniques</text><text x="119.6" y="15" textLength="19">Fiches de traçabilité</text><text x="119.6" y="20.4" textLength="19">Consignes de travail</text><text x="119.6" y="25.9" textLength="49">Procédures de transmission d'informations</text>
<text x="62" y="48" textLength="28">Gérer le retour de PFMP</text><text x="62" y="53.7" textLength="30">Les arbres de compétences</text></g>
<rect x="128" y="40" width="2.4" height="2.4" fill="#4aa84a"/><rect x="91" y="46.4" width="2.4" height="2.4" fill="#6a9ad0"/><rect x="93.6" y="52.1" width="2.4" height="2.4" fill="#6a9ad0"/>
</svg>
<div class="a" style="left:76.2px;top:297.1px"><i></i>Avant la PFMP</div>
<div class="a" style="left:83.3px;top:302.1px"><i class="s"></i>Récupérer la documentation professionnelle</div>
<div class="a" style="left:90px;top:307.1px"><i class="s"></i>FDS</div>
<div class="a" style="left:90px;top:312.1px"><i class="s"></i>Notices techniques</div>
<div class="a" style="left:90px;top:317.1px"><i class="s"></i>Fiches de traçabilité</div>
<div class="a" style="left:90px;top:322.1px"><i class="s"></i>Consignes de travail</div>
<div class="a" style="left:90px;top:327.1px"><i class="s"></i>Procédures de transmission d'informations</div>
<div class="a" style="left:83.3px;top:331.1px"><i class="s"></i>Repérer des travaux permettant l'apprentissage de nouvelles compétences</div>
<div class="a pn" style="left:51.7px;top:357.5px">12</div>
</div>
</div>

<div class="th" style="left:14px;top:721px">
<div class="pg o">
<div class="hl" style="left:43px;top:55.6px;width:198px"></div>
<div class="a hd" style="left:118.7px;top:61.5px">Informations concernant cette publication</div>
<div class="a" style="left:84.3px;top:73.5px"><i class="s"></i>Préparer des situations d'évaluation</div>
<div class="a" style="left:84.3px;top:78.8px"><i class="s"></i>Réaliser le classeur « Hygiène du milieu professionnel »</div>
<div class="a" style="left:76px;top:84.2px"><i></i>Après la PFMP</div>
<div class="a" style="left:84.3px;top:89.5px"><i class="s"></i>Gérer le retour de PFMP</div>
<div class="a" style="left:84.3px;top:94.5px"><i class="s"></i>Les arbres de compétences</div>
<div class="a h" style="left:62px;top:104.2px">Synthèse</div>
<div class="r" style="left:62px;top:109.2px;width:179px"></div>
<svg class="mm" style="left:63.4px;top:114.7px" width="175" height="48" viewBox="0 0 175 48">
<rect width="175" height="48" fill="#eef0f6"/>
<g fill="none" stroke-width=".9">
<path d="M48.2 24C53 24 52 9.3 58.2 9.3" stroke="#c9787c"/>
<path d="M48.2 24H58.2" stroke="#bdb56e"/>
<path d="M48.2 24C53 24 52 38.5 58.2 38.5" stroke="#72bf72"/>
</g>
<rect x="4.1" y="15.3" width="44.1" height="17.4" rx="2.6" fill="url(#gb)" stroke="#8396b0" stroke-width=".7"/>
<text x="26.1" y="26.3" font-size="6.4" font-weight="bold" fill="#34445f" text-anchor="middle">Synthèse</text>
<rect x="58.2" y="4.3" width="51.9" height="10" rx="1.6" fill="#fff" stroke="#cf7c80" stroke-width=".8"/>
<text x="60.6" y="10.6" font-size="3.7" fill="#555" textLength="41">Cahier des charges</text>
<rect x="104" y="7.6" width="3" height="3" fill="#4aa84a"/>
<rect x="58.2" y="18.3" width="112" height="11" rx="1.6" fill="#fff" stroke="#c8c07a" stroke-width=".8"/>
<text x="60.6" y="25.1" font-size="3.7" fill="#555" textLength="101">Documents propres à l'entreprise de propreté</text>
<rect x="164" y="22.2" width="3" height="3" fill="#d8b830"/>
<rect x="58.2" y="33.3" width="90.4" height="10.4" rx="1.6" fill="#fff" stroke="#7cc47c" stroke-width=".8"/>
<text x="60.6" y="39.9" font-size="3.7" fill="#555" textLength="80">Caractéristiques propres au chantier</text>
<rect x="142.5" y="37" width="3" height="3" fill="#d8b830"/>
</svg>
<div class="a" style="left:76px;top:172.5px"><i></i>Cahier des charges</div>
<div class="a" style="left:76px;top:178.5px"><i></i>Documents propres à l'entreprise de propreté</div>
<div class="a" style="left:76px;top:185.5px"><i></i>Caractéristiques propres au chantier</div>
<svg class="ic" style="left:43px;top:197px" width="11" height="11" viewBox="0 0 11 11"><circle cx="5.2" cy="5.2" r="5" fill="#1f4c86"/><rect x="2.4" y="3.4" width="5.6" height="3.6" rx=".7" fill="#fff"/><circle cx="3.9" cy="5.2" r=".7" fill="#1f4c86"/><circle cx="6.5" cy="5.2" r=".7" fill="#1f4c86"/><rect x="3.4" y="7.6" width="3.6" height="1" fill="#fff"/></svg>
<div class="bar" style="left:59.8px;top:195px;height:109px;background:#8dbce2"></div>
<div class="a h" style="left:62px;top:196.2px">Complément : Le plan dans son ensemble</div>
<div class="r" style="left:62px;top:201.3px;width:179px"></div>
<svg class="mm" style="left:63.4px;top:206.4px" width="175" height="88.3" viewBox="0 0 175 88.3">
<rect width="175" height="88.3" fill="#e8e7c6"/>
<g fill="none" stroke-width=".6">
<path d="M107 44C113 30 118 26 126 25" stroke="#86d0c4"/>
<path d="M107 46C112 56 117 60 124 58" stroke="#86d0c4"/>
<path d="M89 21.7H74" stroke="#c690c6"/><path d="M75.6 44.6H70" stroke="#7f94c0"/><path d="M89 66H73" stroke="#6f9fc8"/>
<path d="M96 17.6H110.5" stroke="#c47a74"/><path d="M107.6 44.6H115" stroke="#c9c27a"/><path d="M96 71H110.5" stroke="#6fb86f"/>
<path d="M64.6 21.7C62 21.7 62 18.6 60 18.6M64.6 21.7H61M64.6 21.7C62 21.7 62 25 62.7 25" stroke="#d0a0a8"/>
<path d="M62.7 44.6C56 44.6 54 30 50 30M62.7 44.6C56 44.6 54 56 52 56M62.7 44.6H50" stroke="#a8b0c8"/>
<path d="M64.5 66C60 66 60 58 56 58M64.5 66C60 66 60 75 60 76" stroke="#a8b0c8"/>
<path d="M118.7 17.6C121 17.6 121 10 124 10M118.7 17.6C121 17.6 121 24 128 24M140 10C139 5 140 3 142 2" stroke="#d0a0a0"/>
<path d="M117.6 71C119 71 119 60 121 60M117.6 71C119 71 119 80 128 80" stroke="#9cc89c"/>
</g>
<rect x="88.2" y="17.6" width="1.6" height="24.5" fill="#a84fa8"/>
<rect x="94.2" y="17.6" width="1.9" height="24.5" fill="#b0494b"/>
<rect x="88.2" y="47" width="1.6" height="20" fill="#4a8ec2"/>
<rect x="94.2" y="47" width="1.9" height="24" fill="#3c9f3c"/>
<ellipse cx="91.6" cy="44.6" rx="16" ry="3.2" fill="url(#go)" stroke="#b08050" stroke-width=".3"/>
<text x="91.6" y="45.5" font-size="1.8" fill="#6a3000" text-anchor="middle" textLength="26">Organisation des TP de Propreté</text>
<rect x="64.6" y="19.8" width="9.4" height="3.8" rx=".8" fill="#f5eef2" stroke="#c39ac3" stroke-width=".4"/>
<rect x="62.7" y="42.7" width="7.5" height="3.8" rx=".8" fill="#eef0f6" stroke="#8ea0c4" stroke-width=".4"/>
<rect x="64.5" y="64.1" width="8.5" height="3.8" rx=".8" fill="#eef0f6" stroke="#8ea0c4" stroke-width=".4"/>
<rect x="110.5" y="15.7" width="8.2" height="3.8" rx=".8" fill="#f4ecec" stroke="#c48080" stroke-width=".4"/>
<rect x="115" y="42.4" width="7.5" height="3.8" rx=".8" fill="#f2f0e0" stroke="#c0b870" stroke-width=".4"/>
<rect x="110.5" y="69.1" width="7.1" height="3.8" rx=".8" fill="#eef4ee" stroke="#80b880" stroke-width=".4"/>
<g stroke-width=".9" fill="none">
<path d="M38 18.6h22M42 21.8h19M37.7 25h25" stroke="#d9b4b8"/>
<path d="M10 28.6h14M8 31h18M6 33.2h20M6 35.5h22M4 37.8h24M30 40h18M2 42.2h26M30 44.5h20M5 46.7h23M30 49h18M8 51.2h20M12 53.5h16M40 56h12" stroke="#bfc4d4"/>
<path d="M33 57h18M36 59.5h20M34 62h22M40 64.5h18M38 67h14M44 70h16M46 73h12M50 76h10" stroke="#c6c8cc"/>
<path d="M120.6 13h18M122 16h16M124 19h14M128 24h16M140 2h30M142 4.5h28M142 7h30M146 10h22M144 13h26M142 22h28M140 25h32M140 28h24M140 31h20" stroke="#d8b2b2"/>
<path d="M125 35h14M124 38h30M124 41h40M124 44h44M126 47h36M124 50h42" stroke="#d8ceb0"/>
<path d="M121 57h12M121 60h10M121 63h14M121 66h14M128 70h24M128 73h26M128 76h30M128 79h34M130 82h33M128 85h30" stroke="#c6d2b0"/>
</g>
<circle cx="125.6" cy="45" r=".7" fill="#c03030"/><circle cx="132" cy="39" r=".6" fill="#c03030"/><circle cx="55" cy="68" r=".6" fill="#c03030"/>
</svg>
<div class="a pn" style="left:230px;top:358px">13</div>
</div>
</div>

<div class="th" style="left:183px;top:721px">
<div class="pg e">
<div class="a hd" style="left:60px;top:49.8px">Informations concernant cette publication</div>
<div class="a t1" style="left:51.3px;top:62.7px;font-size:5.5px;letter-spacing:.2px">B.&nbsp; Les participants au projet (par ordre alphabétique)</div>
<div class="a h" style="left:61px;top:76.5px">Marie-Laure ALANDETE</div>
<div class="r" style="left:61px;top:81.8px;width:179.5px"></div>
<div class="p" style="left:76.2px;top:87.8px;width:164.3px"><i></i>Enseignante de Biotechnologies Santé Environnement au lycée Lumina Sophie de Saint Laurent du Maroni² en Guyane Française (Académie de la Guyane).</div>
<div class="p" style="left:76.2px;top:98.8px;width:164.3px"><i></i>Elle enseigne en Bac Pro Hygiène et Environnement et en Bac Pro Hygiène Propreté Stérilisation.</div>
<div class="a h" style="left:61px;top:113.5px">Nicole BATTINI</div>
<div class="r" style="left:61px;top:118.6px;width:179.5px"></div>
<div class="p" style="left:76.2px;top:121.1px;width:164.3px"><i></i>Enseignante en BIB en au lycée Lacroix-Prévôt³ (académie de la Guyane [Académie de la Guyane]) ;</div>
<div class="p" style="left:76.2px;top:131.8px;width:164.3px"><i></i>Elle enseigne notamment auprès des élèves du Bac Pro HPS et du CAP GDPU.</div>
<div class="a h" style="left:61px;top:145.5px">Audrey DELAFORGE</div>
<div class="r" style="left:61px;top:151.2px;width:179.5px"></div>
<div class="p" style="left:76.2px;top:156.5px;width:164.3px"><i></i>Enseignante en BIB depuis 1999 dans l'Académie de Lille, titularisée en 2001.</div>
<div class="p" style="left:76.2px;top:167.8px;width:164.3px"><i></i>Depuis 2011, elle est titulaire du 2 CA-SH option D, formation qui lui a apporté un nouveau regard sur la pédagogie en général.</div>
<div class="a fn" style="left:44px;top:333.8px">2 - http://webtice.ac-guyane.fr/lumina-sophie/</div>
<div class="a fn" style="left:44px;top:337.8px">3 - http://webtice.ac-guyane.fr/lacroix/</div>
<div class="a fn" style="left:44px;top:341.8px">4 - http://www.ac-lille.fr/</div>
<div class="a pn" style="left:51px;top:358.5px">14</div>
</div>
</div>

<!-- ===================== RECTOS SHEETS ===================== -->
<div class="sh dk" style="left:494px;top:143px;width:568px;height:398px">
<div class="pg e">
<div class="a hd" style="left:60px;top:50px">Informations concernant cette publication</div>
<div class="a t1" style="left:74.5px;top:61.7px">1.&nbsp; Thématique de l'ouvrage</div>
<div class="bar" style="left:59.4px;top:74px;height:53px;background:#b9d5ec"></div>
<svg class="ic" style="left:42px;top:75.3px" width="11" height="11" viewBox="0 0 11 11"><circle cx="5.5" cy="5.5" r="4.4" fill="#fff" stroke="#2f5f98" stroke-width="1"/><path d="M3 3.9h2.8l2 1.6-2 1.6H3z" fill="none" stroke="#2f5f98" stroke-width=".8"/></svg>
<div class="a h" style="left:60.6px;top:74.2px">Définition : Thème retenu pour cet ouvrage</div>
<div class="r" style="left:60.6px;top:79.6px;width:180px"></div>
<div class="p" style="left:60.6px;top:82.3px;width:180px">Au cours de ces dernières années, nous avons relevé divers écueils freinants le travail des enseignants sur les TPe de propreté. Tout commence par une grille de lecture des référentiels de formations qui n'est pas commune : chacun y va de sa propre définition pour les documents à utiliser avec les élèves. Ensuite, les objectifs des TPe ne sont pas clairement établis : on doit y faire un nombre important d'activités mais la forme que cela doit prendre reste vague. On pourra toujours prétexter qu'il en va de l'autonomie de l'enseignant mais cette autonomie ne doit pas s'exprimer au détriment de la formation de certaines compétences.</div>
<div class="p" style="left:60.6px;top:122.5px;width:180px">Le thème retenu pour cet ouvrage est donc <span class="bl">l'organisation des TP de propreté</span>.</div>
<div class="bar" style="left:59.4px;top:134px;height:61px;background:#b9d5ec"></div>
<svg class="ic" style="left:42px;top:134.5px" width="11" height="11" viewBox="0 0 11 11"><circle cx="5.5" cy="5.5" r="4.4" fill="#fff" stroke="#2f5f98" stroke-width="1"/><path d="M5.5 2.8v3l1.8 1.4" fill="none" stroke="#2f5f98" stroke-width=".8"/></svg>
<div class="a h" style="left:60.6px;top:134.6px">Remarque</div>
<div class="r" style="left:60.6px;top:139.6px;width:180px"></div>
<div class="p" style="left:60.6px;top:140.3px;width:180px">Loin de donner des règles de fonctionnement en TPe, cet ouvrage propose des <span class="bl">pistes pédagogiques et organisationnelles</span> de manière à ne négliger aucune partie du référentiel.</div>
<div class="p" style="left:60.6px;top:156.6px;width:180px">Il pourra être reproché à cet ouvrage une composition et une qualité inégales entre ses différentes parties. Ceci vient du fait que le bénévolat ne permet en aucun cas de modifier l'écoulement naturel du temps. Il n'en demeure pas moins que le choix des articles s'est opéré à la suite de nombreuses formations d'enseignants en BIB et ainsi que de discussions informelles aussi bien avec des enseignants qu'avec des professionnels. Toutes les parties de cet ouvrage ont fait l'objet de demandes de la part de collègues. Chacun y trouvera ainsi son bonheur en parcourant cet ouvrage comme un guide afin de se focaliser sur ses centres d'intérêts.</div>
<div class="bar" style="left:59.4px;top:202px;height:121.5px;background:#b8302a"></div>
<svg class="ic" style="left:42px;top:204.5px" width="11" height="11" viewBox="0 0 11 11"><circle cx="5.5" cy="5.5" r="4.4" fill="#fff" stroke="#b83a3a" stroke-width="1"/><path d="M5.5 2.4L8.3 7.7H2.7z" fill="#c0392b"/></svg>
<div class="a h" style="left:60.6px;top:203.2px">Attention : Intégration des TICE</div>
<div class="r" style="left:60.6px;top:208.6px;width:180px"></div>
<div class="p" style="left:60.6px;top:210.2px;width:180px">On notera une intégration des TICE dans quasiment tous les chapitres de cet ouvrage. Outre le fait que nous avons le devoir de former nos élèves au B2i lycée (référentiel d'août 2013), il est important de bien prendre conscience de l'importance croissante de ces usages dans les nouveaux référentiels. Ainsi, dans le référentiel du bac pro HPS, <span class="bl">40% des compétences du diplôme</span> participent à « <span class="bl">la maîtrise des outils informatiques et logiciels professionnels</span> » (faire une recherche dans le référentiel en PDF avec le mot clé « informatique » pour le constater soi-même).</div>
<div class="p" style="left:60.6px;top:246.5px;width:180px">Cet ouvrage présente ainsi plusieurs applications pédagogiques visant « la maîtrise des outils informatiques et logiciels professionnels ».</div>
<div class="p" style="left:60.6px;top:257.6px;width:180px">On pourrait disserter longuement sur ce que représentent exactement les « outils informatiques et logiciels professionnels ». Malgré cet aspect brutal un peu prétentieux il s'agit de faire en sorte que les élèves n'aient pas d'appréhension concernant l'utilisation de l'informatique sur le lieu de travail. Il convient donc de les former à utiliser de nombreux logiciels différents afin de leur permettre de se repérer rapidement sur tout nouveau logiciel. A noter que les logiciels de bureautique (tableur, traitement de texte...) représentent l'essentiel des « logiciels professionnels » dans les entreprises de propreté.</div>
<div class="p" style="left:60.6px;top:298.9px;width:180px">Ainsi il n'est nul besoin d'investir (économiquement et en temps de formation) dans des logiciels purement professionnels. Le choix (éthique et économique) a été fait de ne proposer quasiment que des <span class="bl">logiciels libres</span> qui présentent, en outre, l'intérêt d'être multi-plateformes (ils fonctionnent aussi bien sous GNU-Linux que sous MS-Windows® ou Mac-OS®).</div>
<div class="a pn" style="left:53px;top:358px">8</div>
</div>
</div>

<div class="sh" style="left:494px;top:549px;width:568px;height:397px">
<div class="pg o">
<div class="hl" style="left:43px;top:55.6px;width:198px"></div>
<div class="a hd" style="left:118.7px;top:61.5px">Informations concernant cette publication</div>
<div class="a" style="left:84.3px;top:73.5px"><i class="s"></i>Préparer des situations d'évaluation</div>
<div class="a" style="left:84.3px;top:78.8px"><i class="s"></i>Réaliser le classeur « Hygiène du milieu professionnel »</div>
<div class="a" style="left:76px;top:84.2px"><i></i>Après la PFMP</div>
<div class="a" style="left:84.3px;top:89.5px"><i class="s"></i>Gérer le retour de PFMP</div>
<div class="a" style="left:84.3px;top:94.5px"><i class="s"></i>Les arbres de compétences</div>
<div class="a h" style="left:62px;top:104.2px">Synthèse</div>
<div class="r" style="left:62px;top:109.2px;width:179px"></div>
<svg class="mm" style="left:63.4px;top:114.7px" width="175" height="48" viewBox="0 0 175 48">
<rect width="175" height="48" fill="#eef0f6"/>
<g fill="none" stroke-width=".9">
<path d="M48.2 24C53 24 52 9.3 58.2 9.3" stroke="#c9787c"/>
<path d="M48.2 24H58.2" stroke="#bdb56e"/>
<path d="M48.2 24C53 24 52 38.5 58.2 38.5" stroke="#72bf72"/>
</g>
<rect x="4.1" y="15.3" width="44.1" height="17.4" rx="2.6" fill="url(#gb)" stroke="#8396b0" stroke-width=".7"/>
<text x="26.1" y="26.3" font-size="6.4" font-weight="bold" fill="#34445f" text-anchor="middle">Synthèse</text>
<rect x="58.2" y="4.3" width="51.9" height="10" rx="1.6" fill="#fff" stroke="#cf7c80" stroke-width=".8"/>
<text x="60.6" y="10.6" font-size="3.7" fill="#555" textLength="41">Cahier des charges</text>
<rect x="104" y="7.6" width="3" height="3" fill="#4aa84a"/>
<rect x="58.2" y="18.3" width="112" height="11" rx="1.6" fill="#fff" stroke="#c8c07a" stroke-width=".8"/>
<text x="60.6" y="25.1" font-size="3.7" fill="#555" textLength="101">Documents propres à l'entreprise de propreté</text>
<rect x="164" y="22.2" width="3" height="3" fill="#d8b830"/>
<rect x="58.2" y="33.3" width="90.4" height="10.4" rx="1.6" fill="#fff" stroke="#7cc47c" stroke-width=".8"/>
<text x="60.6" y="39.9" font-size="3.7" fill="#555" textLength="80">Caractéristiques propres au chantier</text>
<rect x="142.5" y="37" width="3" height="3" fill="#d8b830"/>
</svg>
<div class="a" style="left:76px;top:172.5px"><i></i>Cahier des charges</div>
<div class="a" style="left:76px;top:178.5px"><i></i>Documents propres à l'entreprise de propreté</div>
<div class="a" style="left:76px;top:185.5px"><i></i>Caractéristiques propres au chantier</div>
<svg class="ic" style="left:43px;top:197px" width="11" height="11" viewBox="0 0 11 11"><circle cx="5.2" cy="5.2" r="5" fill="#1f4c86"/><rect x="2.4" y="3.4" width="5.6" height="3.6" rx=".7" fill="#fff"/><circle cx="3.9" cy="5.2" r=".7" fill="#1f4c86"/><circle cx="6.5" cy="5.2" r=".7" fill="#1f4c86"/><rect x="3.4" y="7.6" width="3.6" height="1" fill="#fff"/></svg>
<div class="bar" style="left:59.8px;top:195px;height:109px;background:#8dbce2"></div>
<div class="a h" style="left:62px;top:196.2px">Complément : Le plan dans son ensemble</div>
<div class="r" style="left:62px;top:201.3px;width:179px"></div>
<svg class="mm" style="left:63.4px;top:206.4px" width="175" height="88.3" viewBox="0 0 175 88.3">
<rect width="175" height="88.3" fill="#e8e7c6"/>
<g fill="none" stroke-width=".6">
<path d="M107 44C113 30 118 26 126 25" stroke="#86d0c4"/>
<path d="M107 46C112 56 117 60 124 58" stroke="#86d0c4"/>
<path d="M89 21.7H74" stroke="#c690c6"/><path d="M75.6 44.6H70" stroke="#7f94c0"/><path d="M89 66H73" stroke="#6f9fc8"/>
<path d="M96 17.6H110.5" stroke="#c47a74"/><path d="M107.6 44.6H115" stroke="#c9c27a"/><path d="M96 71H110.5" stroke="#6fb86f"/>
<path d="M64.6 21.7C62 21.7 62 18.6 60 18.6M64.6 21.7H61M64.6 21.7C62 21.7 62 25 62.7 25" stroke="#d0a0a8"/>
<path d="M62.7 44.6C56 44.6 54 30 50 30M62.7 44.6C56 44.6 54 56 52 56M62.7 44.6H50" stroke="#a8b0c8"/>
<path d="M64.5 66C60 66 60 58 56 58M64.5 66C60 66 60 75 60 76" stroke="#a8b0c8"/>
<path d="M118.7 17.6C121 17.6 121 10 124 10M118.7 17.6C121 17.6 121 24 128 24M140 10C139 5 140 3 142 2" stroke="#d0a0a0"/>
<path d="M117.6 71C119 71 119 60 121 60M117.6 71C119 71 119 80 128 80" stroke="#9cc89c"/>
</g>
<rect x="88.2" y="17.6" width="1.6" height="24.5" fill="#a84fa8"/>
<rect x="94.2" y="17.6" width="1.9" height="24.5" fill="#b0494b"/>
<rect x="88.2" y="47" width="1.6" height="20" fill="#4a8ec2"/>
<rect x="94.2" y="47" width="1.9" height="24" fill="#3c9f3c"/>
<ellipse cx="91.6" cy="44.6" rx="16" ry="3.2" fill="url(#go)" stroke="#b08050" stroke-width=".3"/>
<text x="91.6" y="45.5" font-size="1.8" fill="#6a3000" text-anchor="middle" textLength="26">Organisation des TP de Propreté</text>
<rect x="64.6" y="19.8" width="9.4" height="3.8" rx=".8" fill="#f5eef2" stroke="#c39ac3" stroke-width=".4"/>
<rect x="62.7" y="42.7" width="7.5" height="3.8" rx=".8" fill="#eef0f6" stroke="#8ea0c4" stroke-width=".4"/>
<rect x="64.5" y="64.1" width="8.5" height="3.8" rx=".8" fill="#eef0f6" stroke="#8ea0c4" stroke-width=".4"/>
<rect x="110.5" y="15.7" width="8.2" height="3.8" rx=".8" fill="#f4ecec" stroke="#c48080" stroke-width=".4"/>
<rect x="115" y="42.4" width="7.5" height="3.8" rx=".8" fill="#f2f0e0" stroke="#c0b870" stroke-width=".4"/>
<rect x="110.5" y="69.1" width="7.1" height="3.8" rx=".8" fill="#eef4ee" stroke="#80b880" stroke-width=".4"/>
<g stroke-width=".9" fill="none">
<path d="M38 18.6h22M42 21.8h19M37.7 25h25" stroke="#d9b4b8"/>
<path d="M10 28.6h14M8 31h18M6 33.2h20M6 35.5h22M4 37.8h24M30 40h18M2 42.2h26M30 44.5h20M5 46.7h23M30 49h18M8 51.2h20M12 53.5h16M40 56h12" stroke="#bfc4d4"/>
<path d="M33 57h18M36 59.5h20M34 62h22M40 64.5h18M38 67h14M44 70h16M46 73h12M50 76h10" stroke="#c6c8cc"/>
<path d="M120.6 13h18M122 16h16M124 19h14M128 24h16M140 2h30M142 4.5h28M142 7h30M146 10h22M144 13h26M142 22h28M140 25h32M140 28h24M140 31h20" stroke="#d8b2b2"/>
<path d="M125 35h14M124 38h30M124 41h40M124 44h44M126 47h36M124 50h42" stroke="#d8ceb0"/>
<path d="M121 57h12M121 60h10M121 63h14M121 66h14M128 70h24M128 73h26M128 76h30M128 79h34M130 82h33M128 85h30" stroke="#c6d2b0"/>
</g>
<circle cx="125.6" cy="45" r=".7" fill="#c03030"/><circle cx="132" cy="39" r=".6" fill="#c03030"/><circle cx="55" cy="68" r=".6" fill="#c03030"/>
</svg>
<div class="a pn" style="left:230px;top:358px">13</div>
</div>
<div class="pg e">
<div class="a hd" style="left:60px;top:49.9px">Informations concernant cette publication</div>
<div class="a" style="left:83px;top:61.5px"><i class="s"></i>procédure de commande de pièces</div>
<div class="a" style="left:75.6px;top:67.5px"><i></i>Stock matériels</div>
<div class="a" style="left:83px;top:72.5px"><i class="s"></i>photos de rangement</div>
<div class="a" style="left:83px;top:77.9px"><i class="s"></i>inventaire et stock d'alerte</div>
<div class="a h" style="left:60.7px;top:87.2px">Locaux</div>
<div class="r" style="left:60.7px;top:92.5px;width:180px"></div>
<svg class="mm" style="left:62.6px;top:97.4px" width="174.4" height="59.3" viewBox="0 0 174.4 59.3">
<rect width="174.4" height="59.3" fill="#eef0f6"/>
<g fill="none" stroke-width=".9">
<path d="M40.3 29.7C45 29.7 44 15.6 49.6 15.6" stroke="#cf7c80"/>
<path d="M40.3 29.7C45 29.7 44 35.3 49.6 35.3" stroke="#c8c07a"/>
<path d="M40.3 29.7C45 29.7 44 49.2 49.6 49.2" stroke="#7cc47c"/>
<path d="M91.4 15.6C95 15.6 94 9.8 98.9 9.8M91.4 15.6H97M91.4 15.6C95 15.6 94 25 98.9 25" stroke="#cf7c80" stroke-width=".7"/>
</g>
<rect x="4.4" y="21" width="35.9" height="17.3" rx="2.6" fill="url(#gb)" stroke="#8396b0" stroke-width=".7"/>
<text x="22.35" y="31.7" font-size="5.6" font-weight="bold" fill="#34445f" text-anchor="middle">Locaux</text>
<rect x="49.6" y="10.6" width="41.8" height="10" rx="1.6" fill="#fff" stroke="#cf7c80" stroke-width=".8"/>
<text x="51.6" y="17" font-size="3.6" fill="#555" textLength="31">plan / surfaces</text>
<rect x="85" y="14" width="3" height="3" fill="#e06060"/>
<text x="99.5" y="8.8" font-size="2.4" fill="#333" textLength="22">Revêtements</text>
<path d="M98.9 9.8H127" stroke="#cf7c80" stroke-width=".5"/>
<rect x="123" y="6" width="3" height="3" fill="#4aa84a"/>
<rect x="97" y="13.3" width="35.4" height="5" rx="1" fill="#fff" stroke="#d88a90" stroke-width=".6"/>
<text x="98.6" y="16.8" font-size="2.4" fill="#333" textLength="27">Encombrements</text>
<rect x="128.6" y="14.3" width="2.8" height="2.8" fill="#4aa84a"/>
<text x="99.5" y="24" font-size="2.4" fill="#333" textLength="13">surfaces</text>
<path d="M98.9 25H114" stroke="#cf7c80" stroke-width=".5"/>
<rect x="49.6" y="30" width="120.9" height="10.6" rx="1.6" fill="#fff" stroke="#c8c07a" stroke-width=".8"/>
<text x="51.6" y="36.6" font-size="3.6" fill="#555" textLength="111">fiche quotidienne de maintenance matériel / locaux</text>
<rect x="164.5" y="33.8" width="3" height="3" fill="#6a9ad0"/>
<rect x="49.6" y="44" width="95.8" height="10.3" rx="1.6" fill="#fff" stroke="#7cc47c" stroke-width=".8"/>
<text x="51.6" y="50.5" font-size="3.6" fill="#555" textLength="86">cahier de maintenance matériel / locaux</text>
<rect x="139.5" y="47.7" width="3" height="3" fill="#6a9ad0"/>
</svg>
<div class="a cap" style="left:121px;top:159.5px">Carte de la partie « Locaux »</div>
<div class="a" style="left:75.6px;top:166.5px"><i></i>plan / surfaces</div>
<div class="a" style="left:83px;top:170.9px"><i class="s"></i>Revêtements</div>
<div class="a" style="left:83px;top:175.9px"><i class="s"></i>Encombrements</div>
<div class="a" style="left:83px;top:180.5px"><i class="s"></i>Arrivées d'eau, d'électricité</div>
<div class="a" style="left:75.6px;top:186.5px"><i></i>EDT et plan d'occupation des salles</div>
<div class="a" style="left:75.6px;top:193.5px"><i></i>Maintenance locaux</div>
<div class="a" style="left:83px;top:198.5px"><i class="s"></i>fiche quotidienne de maintenance matériel / locaux</div>
<div class="a" style="left:83px;top:203.2px"><i class="s"></i>cahier de maintenance matériel / locaux</div>
<div class="a pn" style="left:49.5px;top:358px">10</div>
</div>
</div>

<!-- ===================== VERSOS SHEETS ===================== -->
<div class="sh dk" style="left:1206px;top:141.5px;width:566px;height:397px">
<div class="pg o">
<div class="hl" style="left:43.6px;top:55.3px;width:197px"></div>
<div class="a hd" style="left:118.8px;top:61.5px">Informations concernant cette publication</div>
<div class="a h" style="left:62.4px;top:77.8px">Produits</div>
<div class="r" style="left:62.4px;top:82.8px;width:178px"></div>
<svg class="mm" style="left:63.5px;top:88px" width="174.2" height="117.6" viewBox="0 0 174.2 117.6">
<rect width="174.2" height="117.6" fill="#eef0f6"/>
<g fill="none" stroke-width=".8">
<path d="M37.3 58.85C41 58.85 40.5 7.8 44.4 7.8" stroke="#d48896"/>
<path d="M37.3 58.85C41 58.85 40.5 19.15 44.4 19.15" stroke="#c8c07a"/>
<path d="M37.3 58.85C41 58.85 40.5 31 44.4 31" stroke="#72c072"/>
<path d="M37.3 58.85C41 58.85 40.5 42.3 44.4 42.3" stroke="#6cbfc8"/>
<path d="M37.3 58.85C41 58.85 40.5 53.8 44.4 53.8" stroke="#8c82cc"/>
<path d="M37.3 58.85C41 58.85 40.5 65.3 44.4 65.3" stroke="#cc80cc"/>
<path d="M37.3 58.85C41 58.85 40.5 76.6 44.4 76.6" stroke="#cc7070"/>
<path d="M37.3 58.85C41 58.85 40.5 98.8 44.4 98.8" stroke="#c4be72"/>
<path d="M106.5 98.8C109 98.8 108.5 86.6 111 86.6M106.5 98.8C109 98.8 108.5 93.4 111 93.4M106.5 98.8C109 98.8 108.5 100.1 111 100.1M106.5 98.8C109 98.8 108.5 106.9 111 106.9M106.5 98.8C109 98.8 108.5 113.6 111 113.6" stroke="#c4be72" stroke-width=".6"/>
<path d="M111 86.6H141M111 93.4H163M111 100.1H161M111 106.9H170M111 113.6H151" stroke="#c4be72" stroke-width=".5"/>
</g>
<rect x="3.8" y="52" width="33.5" height="13.7" rx="2.2" fill="url(#gb)" stroke="#8396b0" stroke-width=".6"/><text x="20.55" y="60.5" font-size="4.6" font-weight="bold" fill="#34445f" text-anchor="middle">Produits</text>
<g fill="#fff" stroke-width=".7">
<rect x="44.4" y="3.6" width="10.9" height="8.4" rx="1.2" stroke="#d48896"/>
<rect x="44.4" y="15.3" width="7.9" height="7.7" rx="1.2" stroke="#c8c07a"/>
<rect x="44.4" y="27" width="22.6" height="8" rx="1.2" stroke="#72c072"/>
<rect x="44.4" y="38.3" width="42.5" height="8" rx="1.2" stroke="#6cbfc8"/>
<rect x="44.4" y="50" width="20" height="7.6" rx="1.2" stroke="#8c82cc"/>
<rect x="44.4" y="61.3" width="71.5" height="8" rx="1.2" stroke="#cc80cc"/>
<rect x="44.4" y="72.6" width="63.6" height="8" rx="1.2" stroke="#cc7070"/>
<rect x="44.4" y="94.6" width="62.1" height="8.4" rx="1.2" stroke="#c4be72"/>
</g>
<g font-size="2.8" fill="#555">
<text x="45.9" y="8.8" textLength="7.5">FDS</text><text x="45.9" y="20.2" textLength="4.5">FT</text><text x="45.9" y="32" textLength="18.5">Étiquettes</text>
<text x="45.9" y="43.3" textLength="34">Traçabilité produits</text><text x="45.9" y="54.8" textLength="16">Dilutions</text>
<text x="45.9" y="66.3" textLength="62">Consommation par méthode choisie</text><text x="45.9" y="77.6" textLength="59">procédure de commande produits</text>
<text x="45.9" y="99.8" textLength="58">Stock produits / linge d'entretien</text>
</g>
<g font-size="2" fill="#555"><text x="111.3" y="86" textLength="28">photos de rangement</text><text x="111.3" y="92.8" textLength="50">Règles de rangements produits / linge</text><text x="111.3" y="99.5" textLength="48">Code couleurs lavettes / chiffonettes</text><text x="111.3" y="106.3" textLength="57">Règles de dilution / conservation produits</text><text x="111.3" y="113" textLength="38">inventaires et stock d'alerte</text></g>
<rect x="82.5" y="40.8" width="2.8" height="2.8" fill="#6a9ad0"/><rect x="111.5" y="63.8" width="2.8" height="2.8" fill="#4aa84a"/>
</svg>
<div class="a" style="left:76.7px;top:215.8px"><i></i>FDS</div>
<div class="a" style="left:76.7px;top:221.8px"><i></i>FT</div>
<div class="a" style="left:76.7px;top:228.1px"><i></i>Étiquettes</div>
<div class="a" style="left:76.7px;top:234.1px"><i></i>Traçabilité produits</div>
<div class="a" style="left:76.7px;top:240.1px"><i></i>Dilutions</div>
<div class="a" style="left:76.7px;top:246.1px"><i></i>Consommation par méthode choisie</div>
<div class="a" style="left:76.7px;top:252.1px"><i></i>procédure de commande produits</div>
<div class="a" style="left:76.7px;top:258.1px"><i></i>Stock produits / linge d'entretien</div>
<div class="a" style="left:84.6px;top:263.1px"><i class="s"></i>photos de rangement</div>
<div class="a" style="left:84.6px;top:268.1px"><i class="s"></i>Règles de rangements produits / linge</div>
<div class="a" style="left:84.6px;top:273.1px"><i class="s"></i>Code couleurs lavettes / chiffonettes</div>
<div class="a" style="left:84.6px;top:278.1px"><i class="s"></i>Règles de dilution / conservation produits</div>
<div class="a" style="left:84.6px;top:283.1px"><i class="s"></i>inventaires et stock d'alerte</div>
<div class="a pn" style="left:230.5px;top:357.5px">11</div>
</div>
<div class="pg e">
<div class="a hd" style="left:60px;top:49.1px">Informations concernant cette publication</div>
<div class="a h" style="left:61px;top:65.8px">Méthodes</div>
<div class="r" style="left:61px;top:71.1px;width:178.5px"></div>
<svg class="mm" style="left:63px;top:76.6px" width="173.8" height="73.4" viewBox="0 0 173.8 73.4">
<rect width="173.8" height="73.4" fill="#eef0f6"/>
<g fill="none" stroke-width=".9">
<path d="M52.7 36.7C58 36.7 57 15.7 62.8 15.7" stroke="#cf7c80"/>
<path d="M52.7 36.7C58 36.7 57 41.85 62.8 41.85" stroke="#c8c07a"/>
<path d="M52.7 36.7C58 36.7 57 63.05 62.8 63.05" stroke="#7cc47c"/>
<path d="M83.5 15.7C87 15.7 86.5 6.6 91 6.6M83.5 15.7C87 15.7 86.5 14.6 91 14.6M83.5 15.7C87 15.7 86.5 22.6 91 22.6" stroke="#cf7c80" stroke-width=".7"/>
<path d="M91 6.6H145.6M91 14.6H124M91 22.6H115.6" stroke="#cf7c80" stroke-width=".6"/>
<path d="M91.8 41.85C95 41.85 95 39 99.3 39M91.8 41.85C95 41.85 95 50.3 99 50.3M132.4 39C135 39 135 34.6 139.2 34.6M132.4 39C135 39 135 42.6 139 42.6" stroke="#c8c07a" stroke-width=".7"/>
<path d="M99.3 39H132.4M99 50.3H109.5M139.2 34.6H167M139 42.6H158.8" stroke="#c8c07a" stroke-width=".6"/>
</g>
<rect x="4.5" y="27.7" width="48.2" height="18" rx="2.8" fill="url(#gb)" stroke="#8396b0" stroke-width=".7"/><text x="28.6" y="38.8" font-size="6.3" font-weight="bold" fill="#34445f" text-anchor="middle">Méthodes</text>
<rect x="62.8" y="11" width="20.7" height="9.4" rx="1.4" fill="#fff" stroke="#cf7c80" stroke-width=".8"/><text x="64.6" y="17" font-size="3.5" fill="#555" textLength="16.5">Qualité</text>
<rect x="62.8" y="36.7" width="29" height="10.3" rx="1.4" fill="#fff" stroke="#c8c07a" stroke-width=".8"/><text x="64.6" y="43.1" font-size="3.5" fill="#555" textLength="24.5">Protocoles</text>
<rect x="62.8" y="57.7" width="53.8" height="10.7" rx="1.4" fill="#fff" stroke="#7cc47c" stroke-width=".8"/><text x="64.6" y="64.3" font-size="3.5" fill="#555" textLength="43">Cadences de travail</text>
<rect x="110.5" y="61.3" width="3" height="3" fill="#4aa84a"/>
<g font-size="2.5" fill="#444"><text x="91.5" y="5.8" textLength="52">Fiches de données qualitatives</text><text x="91.5" y="13.8" textLength="31">Grilles de contrôle</text><text x="91.5" y="21.8" textLength="17">Traçabilité</text>
<text x="99.8" y="38.2" textLength="31">Mode opératoire</text><text x="99.5" y="49.5" textLength="8">FNDS</text><text x="139.7" y="33.8" textLength="22">Logigramme</text><text x="139.5" y="41.8" textLength="18">Méthodes</text></g>
<rect x="109.5" y="19.8" width="2.8" height="2.8" fill="#e07070"/><rect x="163.5" y="31.6" width="2.8" height="2.8" fill="#6a9ad0"/>
</svg>
<div class="a" style="left:76.2px;top:160.1px"><i></i>Protocoles</div>
<div class="a" style="left:83.3px;top:165.1px"><i class="s"></i>Mode opératoire</div>
<div class="a" style="left:90px;top:170.1px"><i class="s"></i>Logigramme</div>
<div class="a" style="left:90px;top:175.1px"><i class="s"></i>Méthodes</div>
<div class="a" style="left:83.3px;top:180.1px"><i class="s"></i>FNDS</div>
<div class="a" style="left:76.2px;top:186.1px"><i></i>Qualité</div>
<div class="a" style="left:83.3px;top:191.1px"><i class="s"></i>Fiches de données qualitatives</div>
<div class="a" style="left:83.3px;top:196.1px"><i class="s"></i>Grilles de contrôle</div>
<div class="a" style="left:83.3px;top:201.1px"><i class="s"></i>Traçabilité</div>
<div class="a" style="left:76.2px;top:207.1px"><i></i>Cadences de travail</div>
<div class="a h" style="left:61px;top:215.8px">Période de Formation en Milieu Professionnel</div>
<div class="r" style="left:61px;top:221.1px;width:178.5px"></div>
<svg class="mm" style="left:63px;top:227px" width="173.8" height="60" viewBox="0 0 173.8 60">
<rect width="173.8" height="60" fill="#eef0f6"/>
<g fill="none" stroke-width=".7">
<path d="M25.2 29.95C29 29.95 28 24.15 32 24.15" stroke="#cf7c80"/>
<path d="M25.2 29.95C29 29.95 28 51.65 32 51.65" stroke="#c8c07a"/>
<path d="M57 24.15C59.5 24.15 59 15.6 61.7 15.6M57 24.15C59.5 24.15 59 31.3 61.7 31.3M57 24.15C59.5 24.15 59 36.6 61.7 36.6M57 24.15C59.5 24.15 59 42 61.7 42" stroke="#cf7c80" stroke-width=".6"/>
<path d="M115.5 15.6C117.5 15.6 117 4.6 119.3 4.6M115.5 15.6C117.5 15.6 117 10 119.3 10M115.5 15.6H119.3M115.5 15.6C117.5 15.6 117 21 119.3 21M115.5 15.6C117.5 15.6 117 26.5 119.3 26.5" stroke="#cf7c80" stroke-width=".6"/>
<path d="M61.7 15.6H115.5M61.7 31.3H149.4M61.7 36.6H112M61.7 42H127M119.3 4.6H133M119.3 10H145M119.3 15.6H140M119.3 21H140M119.3 26.5H170" stroke="#cf7c80" stroke-width=".5"/>
<path d="M57 51.65C59.5 51.65 59 48.6 61.7 48.6M57 51.65C59.5 51.65 59 54.3 61.7 54.3M61.7 48.6H94.8M61.7 54.3H97.5" stroke="#c8c07a" stroke-width=".5"/>
</g>
<rect x="3.7" y="24.6" width="21.5" height="10.7" rx="1.8" fill="url(#gb)" stroke="#8396b0" stroke-width=".6"/><text x="14.45" y="31.4" font-size="4" font-weight="bold" fill="#34445f" text-anchor="middle">PFMP</text>
<rect x="32" y="20.3" width="25" height="7.7" rx="1.2" fill="#fff" stroke="#cf7c80" stroke-width=".7"/><text x="33.5" y="25.1" font-size="2.5" fill="#555" textLength="21">Avant la PFMP</text>
<rect x="32" y="48" width="25" height="7.3" rx="1.2" fill="#fff" stroke="#c8c07a" stroke-width=".7"/><text x="33.5" y="52.6" font-size="2.5" fill="#555" textLength="21">Après la PFMP</text>
<g font-size="1.8" fill="#444"><text x="62" y="15" textLength="50">Récupérer la documentation professionnelle</text><text x="62" y="30.7" textLength="85">Repérer des travaux permettant l'apprentissage de nouvelles compétences</text><text x="62" y="36" textLength="48">Préparer des situations d'évaluation</text><text x="62" y="41.4" textLength="60">Réaliser le classeur « Hygiène du milieu professionnel »</text>
<text x="119.6" y="4" textLength="6">FDS</text><text x="119.6" y="9.4" textLength="22">Notices techniques</text><text x="119.6" y="15" textLength="19">Fiches de traçabilité</text><text x="119.6" y="20.4" textLength="19">Consignes de travail</text><text x="119.6" y="25.9" textLength="49">Procédures de transmission d'informations</text>
<text x="62" y="48" textLength="28">Gérer le retour de PFMP</text><text x="62" y="53.7" textLength="30">Les arbres de compétences</text></g>
<rect x="128" y="40" width="2.4" height="2.4" fill="#4aa84a"/><rect x="91" y="46.4" width="2.4" height="2.4" fill="#6a9ad0"/><rect x="93.6" y="52.1" width="2.4" height="2.4" fill="#6a9ad0"/>
</svg>
<div class="a" style="left:76.2px;top:297.1px"><i></i>Avant la PFMP</div>
<div class="a" style="left:83.3px;top:302.1px"><i class="s"></i>Récupérer la documentation professionnelle</div>
<div class="a" style="left:90px;top:307.1px"><i class="s"></i>FDS</div>
<div class="a" style="left:90px;top:312.1px"><i class="s"></i>Notices techniques</div>
<div class="a" style="left:90px;top:317.1px"><i class="s"></i>Fiches de traçabilité</div>
<div class="a" style="left:90px;top:322.1px"><i class="s"></i>Consignes de travail</div>
<div class="a" style="left:90px;top:327.1px"><i class="s"></i>Procédures de transmission d'informations</div>
<div class="a" style="left:83.3px;top:331.1px"><i class="s"></i>Repérer des travaux permettant l'apprentissage de nouvelles compétences</div>
<div class="a pn" style="left:51.7px;top:357.5px">12</div>
</div>
</div>

<div class="sh" style="left:1206px;top:547px;width:566px;height:397px">
<div class="pg o">
<div class="hl" style="left:43.6px;top:55.8px;width:197px"></div>
<div class="a hd" style="left:118.8px;top:61.8px">Informations concernant cette publication</div>
<div class="a t1" style="left:76px;top:74px">2.&nbsp; Plan détaillé</div>
<div class="a h" style="left:62.4px;top:84.8px">Plan global</div>
<div class="r" style="left:62.4px;top:90.2px;width:178px"></div>
<svg class="mm" style="left:63.5px;top:95.3px" width="174" height="55.4" viewBox="0 0 174 55.4">
<rect width="174" height="55.4" fill="#e8e7c4"/>
<rect x="57" y="7.5" width="4.4" height="14" fill="#b356b3"/><path d="M33 8.5H58" stroke="#c07ac0" stroke-width="1.6"/>
<rect x="57" y="35" width="4.4" height="13" fill="#52b3b3"/><path d="M32.7 47H58" stroke="#72c0c0" stroke-width="1.6"/>
<rect x="109.6" y="7.5" width="4.4" height="14" fill="#b5504c"/><path d="M113 8.5H138.5" stroke="#c06c68" stroke-width="1.6"/>
<rect x="109.6" y="35" width="4.4" height="13" fill="#4fae4f"/><path d="M113 47H138.5" stroke="#6cbf6c" stroke-width="1.6"/>
<path d="M23.3 28H39" stroke="#7f7fc4" stroke-width="1.2"/><path d="M133 28H149" stroke="#c0c070" stroke-width="1.2"/>
<ellipse cx="85.8" cy="28" rx="47.4" ry="9.6" fill="url(#go)" stroke="#9a8f80" stroke-width=".7"/>
<text x="85.8" y="29.6" font-size="4.6" font-weight="bold" fill="#7b3c08" text-anchor="middle" textLength="78">Organisation des TP de Propreté</text>
<rect x="10.5" y="3.7" width="22.6" height="9.7" rx="1.4" fill="#f8f2f8" stroke="#b05cb0" stroke-width=".8"/><text x="12.5" y="9.8" font-size="3" font-weight="bold" fill="#444" textLength="18.6">Synthèse</text>
<rect x="6.8" y="23" width="16.5" height="9.7" rx="1.4" fill="#f2f2fa" stroke="#6060b0" stroke-width=".8"/><text x="9" y="29.1" font-size="3" font-weight="bold" fill="#444" textLength="12">PFMP</text>
<rect x="9" y="42" width="23.7" height="9.7" rx="1.4" fill="#f0f8f8" stroke="#5fb0b0" stroke-width=".8"/><text x="11" y="48.1" font-size="3" font-weight="bold" fill="#444" textLength="19.7">Méthodes</text>
<rect x="138.5" y="3.7" width="24" height="9.7" rx="1.4" fill="#faf2f2" stroke="#c05050" stroke-width=".8"/><text x="140.5" y="9.8" font-size="3" font-weight="bold" fill="#444" textLength="20">Matériels</text>
<rect x="149" y="23" width="18.5" height="9.7" rx="1.4" fill="#fafaf0" stroke="#b0b050" stroke-width=".8"/><text x="151" y="29.1" font-size="3" font-weight="bold" fill="#444" textLength="14.5">Locaux</text>
<rect x="138.5" y="42" width="21.8" height="9.7" rx="1.4" fill="#f2faf2" stroke="#50b050" stroke-width=".8"/><text x="140.5" y="48.1" font-size="3" font-weight="bold" fill="#444" textLength="17.8">Produits</text>
</svg>
<div class="a" style="left:62.4px;top:160.8px">Le livre est composé de 6 parties principales :</div>
<div class="a" style="left:76.3px;top:165.8px"><b class="n">1.</b>Les matériels ;</div>
<div class="a" style="left:76.3px;top:170.8px"><b class="n">2.</b>Les locaux ;</div>
<div class="a" style="left:76.3px;top:175.8px"><b class="n">3.</b>Les produits ;</div>
<div class="a" style="left:76.3px;top:180.8px"><b class="n">4.</b>Les méthodes ;</div>
<div class="a" style="left:76.3px;top:185.8px"><b class="n">5.</b>Les périodes de formation en milieu professionnel ;</div>
<div class="a" style="left:76.3px;top:190.8px"><b class="n">6.</b>Les documents de synthèse.</div>
<div class="a h" style="left:62.4px;top:200.5px">Matériels</div>
<div class="r" style="left:62.4px;top:205.7px;width:178px"></div>
<svg class="mm" style="left:63.5px;top:210.7px" width="174.2" height="65" viewBox="0 0 174.2 65">
<rect width="174.2" height="65" fill="#eef0f6"/>
<g fill="none" stroke-width=".8">
<path d="M32.7 32.45C37 32.45 35 15.3 39.5 15.3" stroke="#cf7c80"/>
<path d="M32.7 32.45C37 32.45 35 40.15 39.5 40.15" stroke="#c8c07a"/>
<path d="M32.7 32.45C37 32.45 35 57.65 39.5 57.65" stroke="#7cc47c"/>
<path d="M91.1 15.3C93 15.3 93 5 94.8 5M91.1 15.3C93 15.3 93 10.3 94.8 10.3M91.1 15.3C93 15.3 93 20.3 94.8 20.3M124.9 20.3C127 20.3 126.5 15.3 128.5 15.3M124.9 20.3H128.5M124.9 20.3C127 20.3 126.5 25.6 128.5 25.6" stroke="#cf7c80" stroke-width=".6"/>
<path d="M81.5 40.15C84 40.15 83 32.3 85.5 32.3M81.5 40.15C84 40.15 83 37.3 85.5 37.3M81.5 40.15C84 40.15 83 42.3 85.5 42.3M81.5 40.15C84 40.15 83 47.6 85.5 47.6" stroke="#c8c07a" stroke-width=".6"/>
<path d="M76 57.65C78 57.65 78 54.6 79.8 54.6M76 57.65C78 57.65 78 59.6 79.8 59.6" stroke="#7cc47c" stroke-width=".6"/>
<path d="M94.8 5.6H132.5M94.8 10.9H126M94.8 20.9H124.9M128.5 15.9H160M128.5 20.9H170M128.5 26.2H162" stroke="#d08a8e" stroke-width=".5"/>
<path d="M85.5 32.9H121.2M85.5 37.9H120M85.5 42.9H116M85.5 48.2H112" stroke="#c8c07a" stroke-width=".5"/>
<path d="M79.8 55.2H145.5M79.8 60.2H129.8" stroke="#7cc47c" stroke-width=".5"/>
</g>
<rect x="3" y="26.6" width="29.7" height="11.7" rx="2" fill="url(#gb)" stroke="#8396b0" stroke-width=".6"/><text x="17.85" y="33.9" font-size="4" font-weight="bold" fill="#34445f" text-anchor="middle">Matériels</text>
<rect x="39.5" y="11.6" width="51.6" height="7.4" rx="1.2" fill="#fff" stroke="#cf7c80" stroke-width=".7"/><text x="41" y="16.2" font-size="2.6" fill="#555" textLength="47">Documents informatifs matériels</text>
<rect x="39.5" y="36.3" width="42" height="7.7" rx="1.2" fill="#fff" stroke="#c8c07a" stroke-width=".7"/><text x="41" y="41" font-size="2.6" fill="#555" textLength="38">Gestion du stock matériels</text>
<rect x="39.5" y="54" width="36.5" height="7.3" rx="1.2" fill="#fff" stroke="#7cc47c" stroke-width=".7"/><text x="41" y="58.6" font-size="2.6" fill="#555" textLength="32">Maintenance matériel</text>
<g font-size="1.9" fill="#555">
<text x="95.3" y="5" textLength="36">Les documentations techniques</text><text x="95.3" y="10.3" textLength="30">Les fiches de données</text><text x="95.3" y="20.3" textLength="28">Notices techniques</text>
<text x="129" y="15.3" textLength="30">Modifier des fichiers PDF</text><text x="129" y="20.3" textLength="40">Créer des formulaires PDF</text><text x="129" y="25.6" textLength="32">Imprimer en mode brochure / livret</text>
<text x="86" y="32.3" textLength="34">Logiciel de gestion de stock</text><text x="86" y="37.3" textLength="33">Principe de la gestion de stock</text><text x="86" y="42.3" textLength="29">Ajout d'un produit au stock</text><text x="86" y="47.6" textLength="25">Inventaire d'un stock</text>
<text x="80.3" y="54.6" textLength="60">fiches quotidiennes de maintenance matériel / locaux</text><text x="80.3" y="59.6" textLength="45">cahier de maintenance matériel / locaux</text>
</g>
<rect x="141.5" y="52.2" width="2.5" height="2.5" fill="#6a9ad0"/><rect x="126" y="57.2" width="2.5" height="2.5" fill="#6a9ad0"/>
</svg>
<div class="a cap" style="left:118.8px;top:278.8px">Carte de la partie « Matériels »</div>
<div class="a" style="left:76.3px;top:284.8px"><i></i>Documents informatifs matériels</div>
<div class="a" style="left:84.6px;top:289.8px"><i class="s"></i>Notices techniques</div>
<div class="a" style="left:91.4px;top:294.8px"><i class="s"></i>Modifier des fichiers PDF</div>
<div class="a" style="left:91.4px;top:299.8px"><i class="s"></i>Créer des formulaires PDF</div>
<div class="a" style="left:91.4px;top:304.8px"><i class="s"></i>Imprimer en mode brochure / livret</div>
<div class="a" style="left:84.6px;top:309.8px"><i class="s"></i>films</div>
<div class="a" style="left:84.6px;top:314.8px"><i class="s"></i>photos</div>
<div class="a" style="left:84.6px;top:319.8px"><i class="s"></i>plaquettes</div>
<div class="a" style="left:76.3px;top:325.8px"><i></i>Maintenance matériel</div>
<div class="a" style="left:84.6px;top:330.8px"><i class="s"></i>fiches quotidiennes de maintenance matériel / locaux</div>
<div class="a" style="left:84.6px;top:335.8px"><i class="s"></i>cahier de maintenance matériel / locaux</div>
<div class="a" style="left:84.6px;top:340.8px"><i class="s"></i>fiche de maintenance 1er niveau par machine</div>
<div class="a pn" style="left:231px;top:358.5px">9</div>
</div>
<div class="pg e">
<div class="a hd" style="left:60px;top:49.8px">Informations concernant cette publication</div>
<div class="a t1" style="left:51.3px;top:62.7px;font-size:5.5px;letter-spacing:.2px">B.&nbsp; Les participants au projet (par ordre alphabétique)</div>
<div class="a h" style="left:61px;top:76.5px">Marie-Laure ALANDETE</div>
<div class="r" style="left:61px;top:81.8px;width:179.5px"></div>
<div class="p" style="left:76.2px;top:87.8px;width:164.3px"><i></i>Enseignante de Biotechnologies Santé Environnement au lycée Lumina Sophie de Saint Laurent du Maroni² en Guyane Française (Académie de la Guyane).</div>
<div class="p" style="left:76.2px;top:98.8px;width:164.3px"><i></i>Elle enseigne en Bac Pro Hygiène et Environnement et en Bac Pro Hygiène Propreté Stérilisation.</div>
<div class="a h" style="left:61px;top:113.5px">Nicole BATTINI</div>
<div class="r" style="left:61px;top:118.6px;width:179.5px"></div>
<div class="p" style="left:76.2px;top:121.1px;width:164.3px"><i></i>Enseignante en BIB en au lycée Lacroix-Prévôt³ (académie de la Guyane [Académie de la Guyane]) ;</div>
<div class="p" style="left:76.2px;top:131.8px;width:164.3px"><i></i>Elle enseigne notamment auprès des élèves du Bac Pro HPS et du CAP GDPU.</div>
<div class="a h" style="left:61px;top:145.5px">Audrey DELAFORGE</div>
<div class="r" style="left:61px;top:151.2px;width:179.5px"></div>
<div class="p" style="left:76.2px;top:156.5px;width:164.3px"><i></i>Enseignante en BIB depuis 1999 dans l'Académie de Lille, titularisée en 2001.</div>
<div class="p" style="left:76.2px;top:167.8px;width:164.3px"><i></i>Depuis 2011, elle est titulaire du 2 CA-SH option D, formation qui lui a apporté un nouveau regard sur la pédagogie en général.</div>
<div class="a fn" style="left:44px;top:333.8px">2 - http://webtice.ac-guyane.fr/lumina-sophie/</div>
<div class="a fn" style="left:44px;top:337.8px">3 - http://webtice.ac-guyane.fr/lacroix/</div>
<div class="a fn" style="left:44px;top:341.8px">4 - http://www.ac-lille.fr/</div>
<div class="a pn" style="left:51px;top:358.5px">14</div>
</div>
</div>

<!-- ===================== ARROW / PLUS ===================== -->
<svg style="position:absolute;left:0;top:0" width="1782" height="1074">
<rect x="388" y="539.3" width="64" height="7.4" fill="#000"/>
<polyline points="439,526.5 455.5,543 439,559.5" fill="none" stroke="#000" stroke-width="7.4" stroke-linejoin="miter"/>
<rect x="1134.3" y="512.7" width="8" height="62.3" fill="#000"/>
<rect x="1106.7" y="540" width="62.3" height="7.7" fill="#000"/>
</svg>

<div class="cp" style="left:22.7px;top:1026.3px">Original (7 pages A4)</div>
<div class="cp" style="left:607px;top:1023px">Rectos (2 pages A4)</div>
<div class="cp" style="left:1345.6px;top:1022px">Versos (2 pages A4)</div>
</body></html>
